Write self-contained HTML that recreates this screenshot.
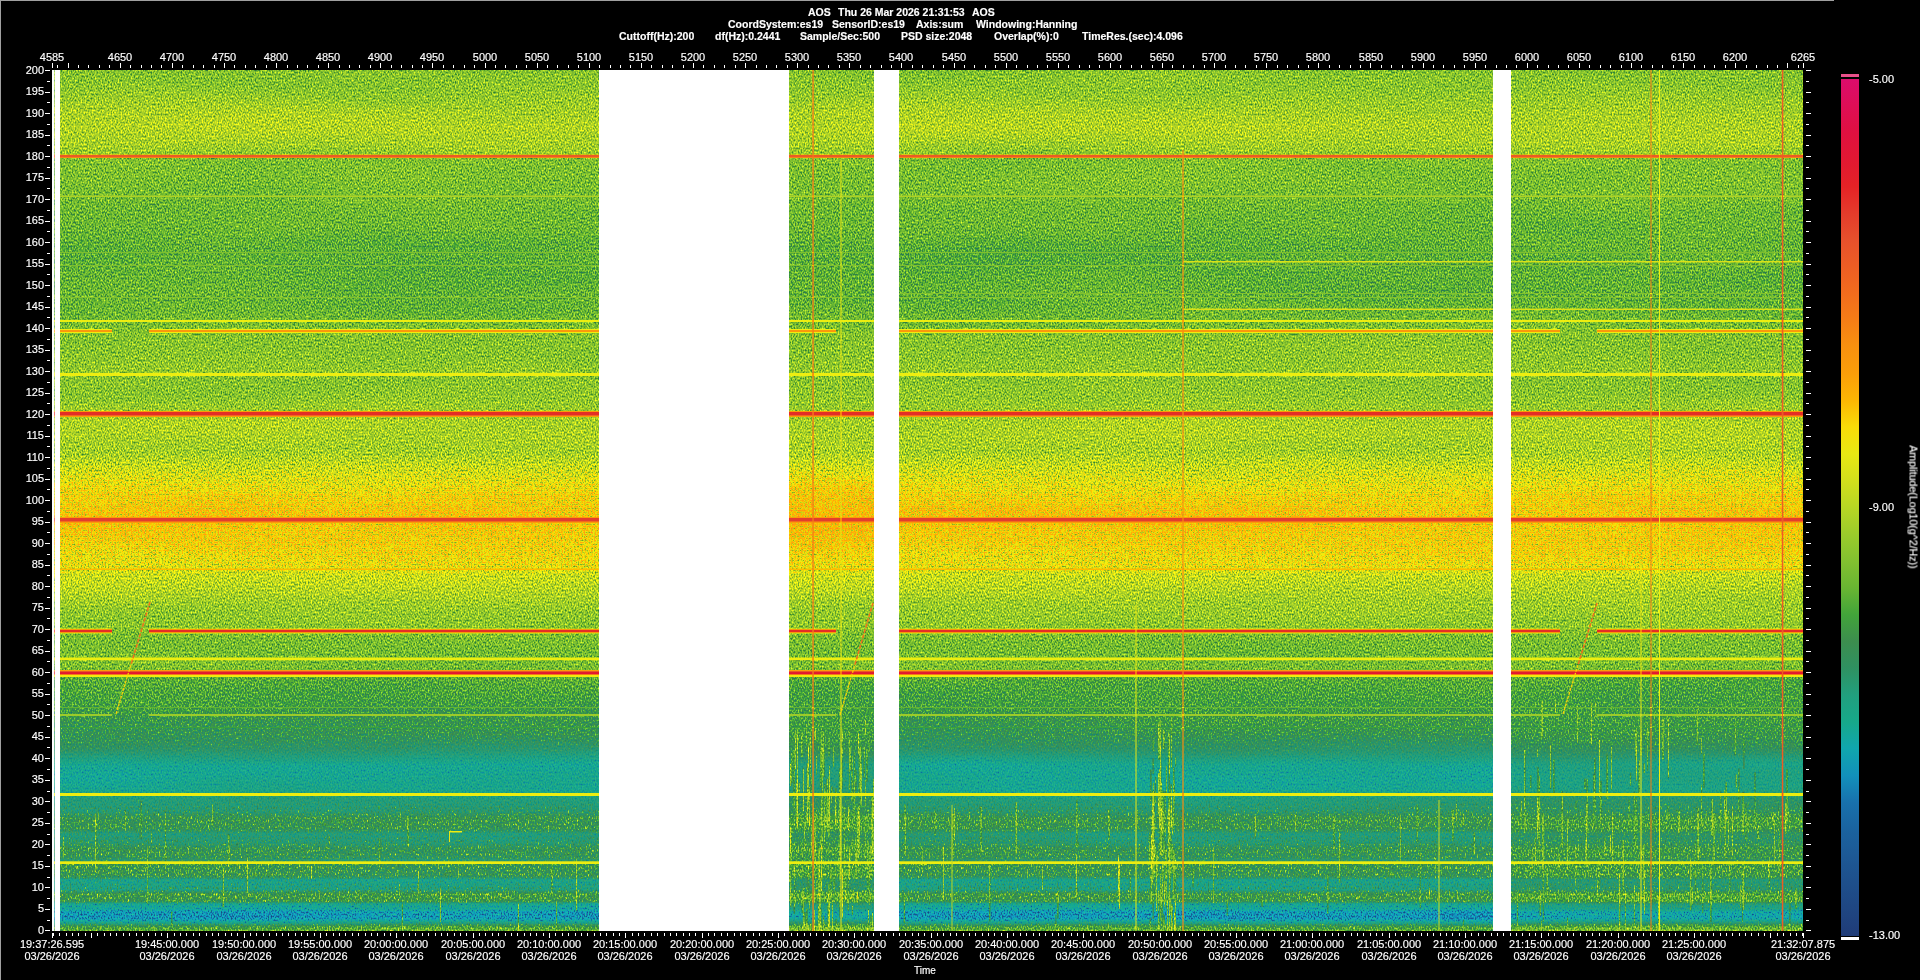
<!DOCTYPE html><html><head><meta charset="utf-8"><style>
html,body{margin:0;padding:0;background:#000;width:1920px;height:980px;overflow:hidden}
body{position:relative;font-family:"Liberation Sans",sans-serif;color:#fff}
.a{position:absolute}
.t{position:absolute;white-space:nowrap;font-size:11px;line-height:11px;will-change:transform;-webkit-text-stroke:0.15px #fff}
.c{transform:translateX(-50%)}
.r{text-align:right}
.b{font-weight:bold;font-size:10.5px;line-height:12px}
</style></head><body>
<div class="a" style="left:0;top:0;width:1px;height:980px;background:#a0a0a0"></div>
<div class="a" style="left:0;top:0;width:1834px;height:1px;background:#a0a0a0"></div>
<div class="t b" style="left:807.8px;top:6px">AOS</div>
<div class="t b" style="left:837.5px;top:6px">Thu 26 Mar 2026 21:31:53</div>
<div class="t b" style="left:971.7px;top:6px">AOS</div>
<div class="t b" style="left:727.5px;top:18px">CoordSystem:es19</div>
<div class="t b" style="left:831.9px;top:18px">SensorID:es19</div>
<div class="t b" style="left:915.8px;top:18px">Axis:sum</div>
<div class="t b" style="left:976.3px;top:18px">Windowing:Hanning</div>
<div class="t b" style="left:618.8px;top:30px">Cuttoff(Hz):200</div>
<div class="t b" style="left:714.7px;top:30px">df(Hz):0.2441</div>
<div class="t b" style="left:800.0px;top:30px">Sample/Sec:500</div>
<div class="t b" style="left:900.8px;top:30px">PSD size:2048</div>
<div class="t b" style="left:994.2px;top:30px">Overlap(%):0</div>
<div class="t b" style="left:1082.2px;top:30px">TimeRes.(sec):4.096</div>
<div class="t c" style="left:52.0px;top:52px">4585</div>
<div class="t c" style="left:119.7px;top:52px">4650</div>
<div class="t c" style="left:171.9px;top:52px">4700</div>
<div class="t c" style="left:224.0px;top:52px">4750</div>
<div class="t c" style="left:276.1px;top:52px">4800</div>
<div class="t c" style="left:328.2px;top:52px">4850</div>
<div class="t c" style="left:380.3px;top:52px">4900</div>
<div class="t c" style="left:432.4px;top:52px">4950</div>
<div class="t c" style="left:484.5px;top:52px">5000</div>
<div class="t c" style="left:536.7px;top:52px">5050</div>
<div class="t c" style="left:588.8px;top:52px">5100</div>
<div class="t c" style="left:640.9px;top:52px">5150</div>
<div class="t c" style="left:693.0px;top:52px">5200</div>
<div class="t c" style="left:745.1px;top:52px">5250</div>
<div class="t c" style="left:797.2px;top:52px">5300</div>
<div class="t c" style="left:849.3px;top:52px">5350</div>
<div class="t c" style="left:901.4px;top:52px">5400</div>
<div class="t c" style="left:953.6px;top:52px">5450</div>
<div class="t c" style="left:1005.7px;top:52px">5500</div>
<div class="t c" style="left:1057.8px;top:52px">5550</div>
<div class="t c" style="left:1109.9px;top:52px">5600</div>
<div class="t c" style="left:1162.0px;top:52px">5650</div>
<div class="t c" style="left:1214.1px;top:52px">5700</div>
<div class="t c" style="left:1266.2px;top:52px">5750</div>
<div class="t c" style="left:1318.3px;top:52px">5800</div>
<div class="t c" style="left:1370.5px;top:52px">5850</div>
<div class="t c" style="left:1422.6px;top:52px">5900</div>
<div class="t c" style="left:1474.7px;top:52px">5950</div>
<div class="t c" style="left:1526.8px;top:52px">6000</div>
<div class="t c" style="left:1578.9px;top:52px">6050</div>
<div class="t c" style="left:1631.0px;top:52px">6100</div>
<div class="t c" style="left:1683.1px;top:52px">6150</div>
<div class="t c" style="left:1735.3px;top:52px">6200</div>
<div class="t c" style="left:1803.0px;top:52px">6265</div>
<div class="t r" style="left:0;width:44px;top:924.8px">0</div>
<div class="t r" style="left:0;width:44px;top:903.3px">5</div>
<div class="t r" style="left:0;width:44px;top:881.8px">10</div>
<div class="t r" style="left:0;width:44px;top:860.3px">15</div>
<div class="t r" style="left:0;width:44px;top:838.8px">20</div>
<div class="t r" style="left:0;width:44px;top:817.3px">25</div>
<div class="t r" style="left:0;width:44px;top:795.8px">30</div>
<div class="t r" style="left:0;width:44px;top:774.2px">35</div>
<div class="t r" style="left:0;width:44px;top:752.7px">40</div>
<div class="t r" style="left:0;width:44px;top:731.2px">45</div>
<div class="t r" style="left:0;width:44px;top:709.7px">50</div>
<div class="t r" style="left:0;width:44px;top:688.2px">55</div>
<div class="t r" style="left:0;width:44px;top:666.7px">60</div>
<div class="t r" style="left:0;width:44px;top:645.2px">65</div>
<div class="t r" style="left:0;width:44px;top:623.7px">70</div>
<div class="t r" style="left:0;width:44px;top:602.2px">75</div>
<div class="t r" style="left:0;width:44px;top:580.7px">80</div>
<div class="t r" style="left:0;width:44px;top:559.2px">85</div>
<div class="t r" style="left:0;width:44px;top:537.7px">90</div>
<div class="t r" style="left:0;width:44px;top:516.2px">95</div>
<div class="t r" style="left:0;width:44px;top:494.6px">100</div>
<div class="t r" style="left:0;width:44px;top:473.1px">105</div>
<div class="t r" style="left:0;width:44px;top:451.6px">110</div>
<div class="t r" style="left:0;width:44px;top:430.1px">115</div>
<div class="t r" style="left:0;width:44px;top:408.6px">120</div>
<div class="t r" style="left:0;width:44px;top:387.1px">125</div>
<div class="t r" style="left:0;width:44px;top:365.6px">130</div>
<div class="t r" style="left:0;width:44px;top:344.1px">135</div>
<div class="t r" style="left:0;width:44px;top:322.6px">140</div>
<div class="t r" style="left:0;width:44px;top:301.1px">145</div>
<div class="t r" style="left:0;width:44px;top:279.6px">150</div>
<div class="t r" style="left:0;width:44px;top:258.1px">155</div>
<div class="t r" style="left:0;width:44px;top:236.6px">160</div>
<div class="t r" style="left:0;width:44px;top:215.1px">165</div>
<div class="t r" style="left:0;width:44px;top:193.5px">170</div>
<div class="t r" style="left:0;width:44px;top:172.0px">175</div>
<div class="t r" style="left:0;width:44px;top:150.5px">180</div>
<div class="t r" style="left:0;width:44px;top:129.0px">185</div>
<div class="t r" style="left:0;width:44px;top:107.5px">190</div>
<div class="t r" style="left:0;width:44px;top:86.0px">195</div>
<div class="t r" style="left:0;width:44px;top:64.5px">200</div>
<div class="t c" style="left:52.0px;top:938px;text-align:center;line-height:12px">19:37:26.595<br>03/26/2026</div>
<div class="t c" style="left:167.4px;top:938px;text-align:center;line-height:12px">19:45:00.000<br>03/26/2026</div>
<div class="t c" style="left:243.7px;top:938px;text-align:center;line-height:12px">19:50:00.000<br>03/26/2026</div>
<div class="t c" style="left:320.0px;top:938px;text-align:center;line-height:12px">19:55:00.000<br>03/26/2026</div>
<div class="t c" style="left:396.4px;top:938px;text-align:center;line-height:12px">20:00:00.000<br>03/26/2026</div>
<div class="t c" style="left:472.7px;top:938px;text-align:center;line-height:12px">20:05:00.000<br>03/26/2026</div>
<div class="t c" style="left:549.1px;top:938px;text-align:center;line-height:12px">20:10:00.000<br>03/26/2026</div>
<div class="t c" style="left:625.4px;top:938px;text-align:center;line-height:12px">20:15:00.000<br>03/26/2026</div>
<div class="t c" style="left:701.7px;top:938px;text-align:center;line-height:12px">20:20:00.000<br>03/26/2026</div>
<div class="t c" style="left:778.1px;top:938px;text-align:center;line-height:12px">20:25:00.000<br>03/26/2026</div>
<div class="t c" style="left:854.4px;top:938px;text-align:center;line-height:12px">20:30:00.000<br>03/26/2026</div>
<div class="t c" style="left:930.7px;top:938px;text-align:center;line-height:12px">20:35:00.000<br>03/26/2026</div>
<div class="t c" style="left:1007.1px;top:938px;text-align:center;line-height:12px">20:40:00.000<br>03/26/2026</div>
<div class="t c" style="left:1083.4px;top:938px;text-align:center;line-height:12px">20:45:00.000<br>03/26/2026</div>
<div class="t c" style="left:1159.8px;top:938px;text-align:center;line-height:12px">20:50:00.000<br>03/26/2026</div>
<div class="t c" style="left:1236.1px;top:938px;text-align:center;line-height:12px">20:55:00.000<br>03/26/2026</div>
<div class="t c" style="left:1312.4px;top:938px;text-align:center;line-height:12px">21:00:00.000<br>03/26/2026</div>
<div class="t c" style="left:1388.8px;top:938px;text-align:center;line-height:12px">21:05:00.000<br>03/26/2026</div>
<div class="t c" style="left:1465.1px;top:938px;text-align:center;line-height:12px">21:10:00.000<br>03/26/2026</div>
<div class="t c" style="left:1541.4px;top:938px;text-align:center;line-height:12px">21:15:00.000<br>03/26/2026</div>
<div class="t c" style="left:1617.8px;top:938px;text-align:center;line-height:12px">21:20:00.000<br>03/26/2026</div>
<div class="t c" style="left:1694.1px;top:938px;text-align:center;line-height:12px">21:25:00.000<br>03/26/2026</div>
<div class="t c" style="left:1803.0px;top:938px;text-align:center;line-height:12px">21:32:07.875<br>03/26/2026</div>
<div class="t c" style="left:925px;top:965px;font-size:10px">Time</div>
<div class="t" style="left:1869px;top:74px">-5.00</div>
<div class="t" style="left:1869px;top:502px">-9.00</div>
<div class="t" style="left:1869px;top:930px">-13.00</div>
<div class="t" style="left:1913px;top:507px;font-size:10.6px;transform:translate(-50%,-50%) rotate(90deg)">Amplitude(Log10(g^2/Hz))</div>
<svg class="a" style="left:0;top:0" width="1920" height="980"><path d="M57.5 65V68M68.5 63V68M78.5 65V68M88.5 65V68M99.5 65V68M109.5 65V68M120.5 63V68M130.5 65V68M141.5 65V68M151.5 65V68M161.5 65V68M172.5 63V68M182.5 65V68M193.5 65V68M203.5 65V68M214.5 65V68M224.5 63V68M234.5 65V68M245.5 65V68M255.5 65V68M266.5 65V68M276.5 63V68M287.5 65V68M297.5 65V68M307.5 65V68M318.5 65V68M328.5 63V68M339.5 65V68M349.5 65V68M359.5 65V68M370.5 65V68M380.5 63V68M391.5 65V68M401.5 65V68M412.5 65V68M422.5 65V68M432.5 63V68M443.5 65V68M453.5 65V68M464.5 65V68M474.5 65V68M485.5 63V68M495.5 65V68M505.5 65V68M516.5 65V68M526.5 65V68M537.5 63V68M547.5 65V68M557.5 65V68M568.5 65V68M578.5 65V68M589.5 63V68M599.5 65V68M610.5 65V68M620.5 65V68M630.5 65V68M641.5 63V68M651.5 65V68M662.5 65V68M672.5 65V68M683.5 65V68M693.5 63V68M703.5 65V68M714.5 65V68M724.5 65V68M735.5 65V68M745.5 63V68M756.5 65V68M766.5 65V68M776.5 65V68M787.5 65V68M797.5 63V68M808.5 65V68M818.5 65V68M828.5 65V68M839.5 65V68M849.5 63V68M860.5 65V68M870.5 65V68M881.5 65V68M891.5 65V68M901.5 63V68M912.5 65V68M922.5 65V68M933.5 65V68M943.5 65V68M954.5 63V68M964.5 65V68M974.5 65V68M985.5 65V68M995.5 65V68M1006.5 63V68M1016.5 65V68M1027.5 65V68M1037.5 65V68M1047.5 65V68M1058.5 63V68M1068.5 65V68M1079.5 65V68M1089.5 65V68M1099.5 65V68M1110.5 63V68M1120.5 65V68M1131.5 65V68M1141.5 65V68M1152.5 65V68M1162.5 63V68M1172.5 65V68M1183.5 65V68M1193.5 65V68M1204.5 65V68M1214.5 63V68M1225.5 65V68M1235.5 65V68M1245.5 65V68M1256.5 65V68M1266.5 63V68M1277.5 65V68M1287.5 65V68M1298.5 65V68M1308.5 65V68M1318.5 63V68M1329.5 65V68M1339.5 65V68M1350.5 65V68M1360.5 65V68M1370.5 63V68M1381.5 65V68M1391.5 65V68M1402.5 65V68M1412.5 65V68M1423.5 63V68M1433.5 65V68M1443.5 65V68M1454.5 65V68M1464.5 65V68M1475.5 63V68M1485.5 65V68M1496.5 65V68M1506.5 65V68M1516.5 65V68M1527.5 63V68M1537.5 65V68M1548.5 65V68M1558.5 65V68M1568.5 65V68M1579.5 63V68M1589.5 65V68M1600.5 65V68M1610.5 65V68M1621.5 65V68M1631.5 63V68M1641.5 65V68M1652.5 65V68M1662.5 65V68M1673.5 65V68M1683.5 63V68M1694.5 65V68M1704.5 65V68M1714.5 65V68M1725.5 65V68M1735.5 63V68M1746.5 65V68M1756.5 65V68M1767.5 65V68M1777.5 65V68M1787.5 63V68M1798.5 65V68M52.5 63V68M1803.5 63V68M45 930.5H50M1806 930.5H1811M47 920.5H50M1806 920.5H1809M45 909.5H50M1806 909.5H1811M47 898.5H50M1806 898.5H1809M45 887.5H50M1806 887.5H1811M47 877.5H50M1806 877.5H1809M45 866.5H50M1806 866.5H1811M47 855.5H50M1806 855.5H1809M45 844.5H50M1806 844.5H1811M47 834.5H50M1806 834.5H1809M45 823.5H50M1806 823.5H1811M47 812.5H50M1806 812.5H1809M45 801.5H50M1806 801.5H1811M47 791.5H50M1806 791.5H1809M45 780.5H50M1806 780.5H1811M47 769.5H50M1806 769.5H1809M45 758.5H50M1806 758.5H1811M47 747.5H50M1806 747.5H1809M45 737.5H50M1806 737.5H1811M47 726.5H50M1806 726.5H1809M45 715.5H50M1806 715.5H1811M47 704.5H50M1806 704.5H1809M45 694.5H50M1806 694.5H1811M47 683.5H50M1806 683.5H1809M45 672.5H50M1806 672.5H1811M47 661.5H50M1806 661.5H1809M45 651.5H50M1806 651.5H1811M47 640.5H50M1806 640.5H1809M45 629.5H50M1806 629.5H1811M47 618.5H50M1806 618.5H1809M45 608.5H50M1806 608.5H1811M47 597.5H50M1806 597.5H1809M45 586.5H50M1806 586.5H1811M47 575.5H50M1806 575.5H1809M45 565.5H50M1806 565.5H1811M47 554.5H50M1806 554.5H1809M45 543.5H50M1806 543.5H1811M47 532.5H50M1806 532.5H1809M45 522.5H50M1806 522.5H1811M47 511.5H50M1806 511.5H1809M45 500.5H50M1806 500.5H1811M47 489.5H50M1806 489.5H1809M45 479.5H50M1806 479.5H1811M47 468.5H50M1806 468.5H1809M45 457.5H50M1806 457.5H1811M47 446.5H50M1806 446.5H1809M45 436.5H50M1806 436.5H1811M47 425.5H50M1806 425.5H1809M45 414.5H50M1806 414.5H1811M47 403.5H50M1806 403.5H1809M45 393.5H50M1806 393.5H1811M47 382.5H50M1806 382.5H1809M45 371.5H50M1806 371.5H1811M47 360.5H50M1806 360.5H1809M45 350.5H50M1806 350.5H1811M47 339.5H50M1806 339.5H1809M45 328.5H50M1806 328.5H1811M47 317.5H50M1806 317.5H1809M45 307.5H50M1806 307.5H1811M47 296.5H50M1806 296.5H1809M45 285.5H50M1806 285.5H1811M47 274.5H50M1806 274.5H1809M45 264.5H50M1806 264.5H1811M47 253.5H50M1806 253.5H1809M45 242.5H50M1806 242.5H1811M47 231.5H50M1806 231.5H1809M45 221.5H50M1806 221.5H1811M47 210.5H50M1806 210.5H1809M45 199.5H50M1806 199.5H1811M47 188.5H50M1806 188.5H1809M45 178.5H50M1806 178.5H1811M47 167.5H50M1806 167.5H1809M45 156.5H50M1806 156.5H1811M47 145.5H50M1806 145.5H1809M45 135.5H50M1806 135.5H1811M47 124.5H50M1806 124.5H1809M45 113.5H50M1806 113.5H1811M47 102.5H50M1806 102.5H1809M45 92.5H50M1806 92.5H1811M47 81.5H50M1806 81.5H1809M45 70.5H50M1806 70.5H1811M53.5 933V936M59.5 933V936M66.5 933V936M72.5 933V936M78.5 933V936M85.5 933V936M91.5 933V938M97.5 933V936M104.5 933V936M110.5 933V936M116.5 933V936M123.5 933V936M129.5 933V936M136.5 933V936M142.5 933V936M148.5 933V936M155.5 933V936M161.5 933V936M167.5 933V938M174.5 933V936M180.5 933V936M186.5 933V936M193.5 933V936M199.5 933V936M206.5 933V936M212.5 933V936M218.5 933V936M225.5 933V936M231.5 933V936M237.5 933V936M244.5 933V938M250.5 933V936M256.5 933V936M263.5 933V936M269.5 933V936M276.5 933V936M282.5 933V936M288.5 933V936M295.5 933V936M301.5 933V936M307.5 933V936M314.5 933V936M320.5 933V938M326.5 933V936M333.5 933V936M339.5 933V936M345.5 933V936M352.5 933V936M358.5 933V936M365.5 933V936M371.5 933V936M377.5 933V936M384.5 933V936M390.5 933V936M396.5 933V938M403.5 933V936M409.5 933V936M415.5 933V936M422.5 933V936M428.5 933V936M435.5 933V936M441.5 933V936M447.5 933V936M454.5 933V936M460.5 933V936M466.5 933V936M473.5 933V938M479.5 933V936M485.5 933V936M492.5 933V936M498.5 933V936M505.5 933V936M511.5 933V936M517.5 933V936M524.5 933V936M530.5 933V936M536.5 933V936M543.5 933V936M549.5 933V938M555.5 933V936M562.5 933V936M568.5 933V936M575.5 933V936M581.5 933V936M587.5 933V936M594.5 933V936M600.5 933V936M606.5 933V936M613.5 933V936M619.5 933V936M625.5 933V938M632.5 933V936M638.5 933V936M644.5 933V936M651.5 933V936M657.5 933V936M664.5 933V936M670.5 933V936M676.5 933V936M683.5 933V936M689.5 933V936M695.5 933V936M702.5 933V938M708.5 933V936M714.5 933V936M721.5 933V936M727.5 933V936M734.5 933V936M740.5 933V936M746.5 933V936M753.5 933V936M759.5 933V936M765.5 933V936M772.5 933V936M778.5 933V938M784.5 933V936M791.5 933V936M797.5 933V936M804.5 933V936M810.5 933V936M816.5 933V936M823.5 933V936M829.5 933V936M835.5 933V936M842.5 933V936M848.5 933V936M854.5 933V938M861.5 933V936M867.5 933V936M873.5 933V936M880.5 933V936M886.5 933V936M893.5 933V936M899.5 933V936M905.5 933V936M912.5 933V936M918.5 933V936M924.5 933V936M931.5 933V938M937.5 933V936M943.5 933V936M950.5 933V936M956.5 933V936M963.5 933V936M969.5 933V936M975.5 933V936M982.5 933V936M988.5 933V936M994.5 933V936M1001.5 933V936M1007.5 933V938M1013.5 933V936M1020.5 933V936M1026.5 933V936M1033.5 933V936M1039.5 933V936M1045.5 933V936M1052.5 933V936M1058.5 933V936M1064.5 933V936M1071.5 933V936M1077.5 933V936M1083.5 933V938M1090.5 933V936M1096.5 933V936M1103.5 933V936M1109.5 933V936M1115.5 933V936M1122.5 933V936M1128.5 933V936M1134.5 933V936M1141.5 933V936M1147.5 933V936M1153.5 933V936M1160.5 933V938M1166.5 933V936M1172.5 933V936M1179.5 933V936M1185.5 933V936M1192.5 933V936M1198.5 933V936M1204.5 933V936M1211.5 933V936M1217.5 933V936M1223.5 933V936M1230.5 933V936M1236.5 933V938M1242.5 933V936M1249.5 933V936M1255.5 933V936M1262.5 933V936M1268.5 933V936M1274.5 933V936M1281.5 933V936M1287.5 933V936M1293.5 933V936M1300.5 933V936M1306.5 933V936M1312.5 933V938M1319.5 933V936M1325.5 933V936M1332.5 933V936M1338.5 933V936M1344.5 933V936M1351.5 933V936M1357.5 933V936M1363.5 933V936M1370.5 933V936M1376.5 933V936M1382.5 933V936M1389.5 933V938M1395.5 933V936M1401.5 933V936M1408.5 933V936M1414.5 933V936M1421.5 933V936M1427.5 933V936M1433.5 933V936M1440.5 933V936M1446.5 933V936M1452.5 933V936M1459.5 933V936M1465.5 933V938M1471.5 933V936M1478.5 933V936M1484.5 933V936M1491.5 933V936M1497.5 933V936M1503.5 933V936M1510.5 933V936M1516.5 933V936M1522.5 933V936M1529.5 933V936M1535.5 933V936M1541.5 933V938M1548.5 933V936M1554.5 933V936M1561.5 933V936M1567.5 933V936M1573.5 933V936M1580.5 933V936M1586.5 933V936M1592.5 933V936M1599.5 933V936M1605.5 933V936M1611.5 933V936M1618.5 933V938M1624.5 933V936M1631.5 933V936M1637.5 933V936M1643.5 933V936M1650.5 933V936M1656.5 933V936M1662.5 933V936M1669.5 933V936M1675.5 933V936M1681.5 933V936M1688.5 933V936M1694.5 933V938M1700.5 933V936M1707.5 933V936M1713.5 933V936M1720.5 933V936M1726.5 933V936M1732.5 933V936M1739.5 933V936M1745.5 933V936M1751.5 933V936M1758.5 933V936M1764.5 933V936M1770.5 933V938M1777.5 933V936M1783.5 933V936M1790.5 933V936M1796.5 933V936M1802.5 933V936M52.5 933V938M1803.5 933V938" stroke="#fff" stroke-width="1" fill="none" shape-rendering="crispEdges"/></svg>
<div class="a" style="left:1841px;top:74px;width:18px;height:3px;background:#e8508a"></div>
<div class="a" style="left:1841px;top:79px;width:18px;height:857px;background:linear-gradient(to bottom,rgb(220,12,108) 0.00%,rgb(222,14,86) 3.12%,rgb(224,16,64) 6.25%,rgb(226,24,50) 9.38%,rgb(228,34,38) 12.50%,rgb(228,59,43) 15.62%,rgb(231,80,44) 18.75%,rgb(237,93,36) 21.88%,rgb(242,108,29) 25.00%,rgb(245,125,22) 28.12%,rgb(248,145,15) 31.25%,rgb(251,158,9) 34.38%,rgb(252,182,3) 37.50%,rgb(248,220,8) 40.62%,rgb(232,232,19) 43.75%,rgb(210,223,28) 46.88%,rgb(183,214,36) 50.00%,rgb(155,203,43) 53.12%,rgb(130,193,48) 56.25%,rgb(105,181,50) 59.38%,rgb(66,164,58) 62.50%,rgb(60,142,78) 65.62%,rgb(47,145,97) 68.75%,rgb(33,159,126) 71.88%,rgb(23,168,138) 75.00%,rgb(16,166,174) 78.12%,rgb(18,145,187) 81.25%,rgb(24,113,173) 84.38%,rgb(26,99,159) 87.50%,rgb(29,89,149) 90.62%,rgb(30,79,139) 93.75%,rgb(31,70,130) 96.88%,rgb(32,60,120) 100.00%)"></div>
<div class="a" style="left:1841px;top:937px;width:18px;height:3px;background:#fff"></div>
<svg class="a" style="left:54px;top:70px" width="1749" height="861"><defs><linearGradient id="pg" gradientUnits="userSpaceOnUse" x1="0" y1="0" x2="0" y2="861"><stop offset="0.0000" stop-color="rgb(87,0,166)"/><stop offset="0.0232" stop-color="rgb(90,0,166)"/><stop offset="0.0465" stop-color="rgb(96,0,166)"/><stop offset="0.0674" stop-color="rgb(100,0,166)"/><stop offset="0.0871" stop-color="rgb(96,0,166)"/><stop offset="0.0964" stop-color="rgb(91,0,166)"/><stop offset="0.1022" stop-color="rgb(85,0,166)"/><stop offset="0.1278" stop-color="rgb(84,0,166)"/><stop offset="0.1742" stop-color="rgb(80,0,166)"/><stop offset="0.2091" stop-color="rgb(76,0,166)"/><stop offset="0.2439" stop-color="rgb(76,0,166)"/><stop offset="0.2671" stop-color="rgb(77,0,166)"/><stop offset="0.2880" stop-color="rgb(81,0,166)"/><stop offset="0.3078" stop-color="rgb(87,0,166)"/><stop offset="0.3368" stop-color="rgb(90,0,166)"/><stop offset="0.3508" stop-color="rgb(91,0,166)"/><stop offset="0.3577" stop-color="rgb(87,0,166)"/><stop offset="0.3775" stop-color="rgb(89,0,166)"/><stop offset="0.3949" stop-color="rgb(94,0,166)"/><stop offset="0.4042" stop-color="rgb(98,0,166)"/><stop offset="0.4239" stop-color="rgb(99,0,166)"/><stop offset="0.4297" stop-color="rgb(98,0,166)"/><stop offset="0.4437" stop-color="rgb(91,0,201)"/><stop offset="0.4588" stop-color="rgb(94,0,240)"/><stop offset="0.4646" stop-color="rgb(95,0,255)"/><stop offset="0.4762" stop-color="rgb(102,0,255)"/><stop offset="0.4936" stop-color="rgb(111,0,255)"/><stop offset="0.5134" stop-color="rgb(115,0,255)"/><stop offset="0.5285" stop-color="rgb(115,0,255)"/><stop offset="0.5517" stop-color="rgb(112,0,255)"/><stop offset="0.5749" stop-color="rgb(106,0,255)"/><stop offset="0.5865" stop-color="rgb(100,0,219)"/><stop offset="0.6039" stop-color="rgb(101,0,166)"/><stop offset="0.6156" stop-color="rgb(96,0,165)"/><stop offset="0.6446" stop-color="rgb(90,0,163)"/><stop offset="0.6620" stop-color="rgb(84,0,161)"/><stop offset="0.6794" stop-color="rgb(83,0,160)"/><stop offset="0.6945" stop-color="rgb(85,0,159)"/><stop offset="0.6969" stop-color="rgb(83,0,159)"/><stop offset="0.7085" stop-color="rgb(74,31,158)"/><stop offset="0.7317" stop-color="rgb(70,35,156)"/><stop offset="0.7491" stop-color="rgb(66,38,155)"/><stop offset="0.7549" stop-color="rgb(65,66,154)"/><stop offset="0.7573" stop-color="rgb(64,76,154)"/><stop offset="0.7724" stop-color="rgb(61,76,153)"/><stop offset="0.7840" stop-color="rgb(61,76,119)"/><stop offset="0.7898" stop-color="rgb(61,60,102)"/><stop offset="0.8014" stop-color="rgb(52,26,102)"/><stop offset="0.8072" stop-color="rgb(47,28,102)"/><stop offset="0.8362" stop-color="rgb(48,38,102)"/><stop offset="0.8479" stop-color="rgb(56,51,102)"/><stop offset="0.8595" stop-color="rgb(52,153,140)"/><stop offset="0.8618" stop-color="rgb(53,173,140)"/><stop offset="0.8653" stop-color="rgb(58,204,140)"/><stop offset="0.8688" stop-color="rgb(63,204,140)"/><stop offset="0.8804" stop-color="rgb(63,204,140)"/><stop offset="0.8827" stop-color="rgb(59,204,140)"/><stop offset="0.8873" stop-color="rgb(50,51,140)"/><stop offset="0.8978" stop-color="rgb(53,176,140)"/><stop offset="0.9001" stop-color="rgb(56,204,140)"/><stop offset="0.9048" stop-color="rgb(62,204,140)"/><stop offset="0.9141" stop-color="rgb(59,204,140)"/><stop offset="0.9152" stop-color="rgb(57,204,140)"/><stop offset="0.9175" stop-color="rgb(53,77,140)"/><stop offset="0.9233" stop-color="rgb(63,255,140)"/><stop offset="0.9361" stop-color="rgb(62,255,140)"/><stop offset="0.9373" stop-color="rgb(58,255,140)"/><stop offset="0.9408" stop-color="rgb(45,51,140)"/><stop offset="0.9524" stop-color="rgb(48,236,140)"/><stop offset="0.9535" stop-color="rgb(53,255,140)"/><stop offset="0.9570" stop-color="rgb(67,255,140)"/><stop offset="0.9652" stop-color="rgb(64,255,140)"/><stop offset="0.9663" stop-color="rgb(57,255,140)"/><stop offset="0.9686" stop-color="rgb(41,102,140)"/><stop offset="0.9698" stop-color="rgb(41,25,140)"/><stop offset="0.9744" stop-color="rgb(39,26,140)"/><stop offset="0.9779" stop-color="rgb(29,26,140)"/><stop offset="0.9849" stop-color="rgb(27,26,140)"/><stop offset="0.9884" stop-color="rgb(39,26,140)"/><stop offset="0.9895" stop-color="rgb(43,26,140)"/><stop offset="0.9919" stop-color="rgb(50,144,140)"/><stop offset="0.9930" stop-color="rgb(58,204,140)"/><stop offset="0.9942" stop-color="rgb(66,204,140)"/><stop offset="1.0000" stop-color="rgb(81,204,140)"/></linearGradient><linearGradient id="pgb" gradientUnits="userSpaceOnUse" x1="0" y1="0" x2="0" y2="861"><stop offset="0.0000" stop-color="rgb(87,0,166)"/><stop offset="0.0232" stop-color="rgb(90,0,166)"/><stop offset="0.0465" stop-color="rgb(96,0,166)"/><stop offset="0.0674" stop-color="rgb(100,0,166)"/><stop offset="0.0871" stop-color="rgb(96,0,166)"/><stop offset="0.0964" stop-color="rgb(91,0,166)"/><stop offset="0.1022" stop-color="rgb(85,0,166)"/><stop offset="0.1278" stop-color="rgb(84,0,166)"/><stop offset="0.1742" stop-color="rgb(80,0,166)"/><stop offset="0.2091" stop-color="rgb(76,0,166)"/><stop offset="0.2439" stop-color="rgb(76,0,166)"/><stop offset="0.2671" stop-color="rgb(77,0,166)"/><stop offset="0.2880" stop-color="rgb(81,0,166)"/><stop offset="0.3078" stop-color="rgb(87,0,166)"/><stop offset="0.3368" stop-color="rgb(90,0,166)"/><stop offset="0.3508" stop-color="rgb(91,0,166)"/><stop offset="0.3577" stop-color="rgb(87,0,166)"/><stop offset="0.3775" stop-color="rgb(89,0,166)"/><stop offset="0.3949" stop-color="rgb(94,0,166)"/><stop offset="0.4042" stop-color="rgb(98,0,166)"/><stop offset="0.4239" stop-color="rgb(99,0,166)"/><stop offset="0.4297" stop-color="rgb(98,0,166)"/><stop offset="0.4437" stop-color="rgb(92,0,201)"/><stop offset="0.4588" stop-color="rgb(97,0,240)"/><stop offset="0.4646" stop-color="rgb(99,0,255)"/><stop offset="0.4762" stop-color="rgb(106,0,255)"/><stop offset="0.4936" stop-color="rgb(115,0,255)"/><stop offset="0.5134" stop-color="rgb(119,0,255)"/><stop offset="0.5285" stop-color="rgb(119,0,255)"/><stop offset="0.5517" stop-color="rgb(116,0,255)"/><stop offset="0.5633" stop-color="rgb(113,0,255)"/><stop offset="0.5749" stop-color="rgb(108,0,255)"/><stop offset="0.5865" stop-color="rgb(100,0,219)"/><stop offset="0.5923" stop-color="rgb(100,0,201)"/><stop offset="0.6039" stop-color="rgb(101,0,166)"/><stop offset="0.6156" stop-color="rgb(96,0,165)"/><stop offset="0.6446" stop-color="rgb(90,0,163)"/><stop offset="0.6620" stop-color="rgb(84,0,161)"/><stop offset="0.6794" stop-color="rgb(83,0,160)"/><stop offset="0.6945" stop-color="rgb(85,0,159)"/><stop offset="0.6969" stop-color="rgb(83,0,159)"/><stop offset="0.7085" stop-color="rgb(74,31,158)"/><stop offset="0.7317" stop-color="rgb(70,35,156)"/><stop offset="0.7491" stop-color="rgb(69,38,155)"/><stop offset="0.7549" stop-color="rgb(69,66,154)"/><stop offset="0.7573" stop-color="rgb(69,76,154)"/><stop offset="0.7724" stop-color="rgb(68,76,153)"/><stop offset="0.7782" stop-color="rgb(69,76,136)"/><stop offset="0.7840" stop-color="rgb(69,76,119)"/><stop offset="0.7898" stop-color="rgb(69,60,102)"/><stop offset="0.8014" stop-color="rgb(60,26,102)"/><stop offset="0.8072" stop-color="rgb(55,28,102)"/><stop offset="0.8362" stop-color="rgb(57,38,102)"/><stop offset="0.8479" stop-color="rgb(65,51,102)"/><stop offset="0.8595" stop-color="rgb(61,153,140)"/><stop offset="0.8618" stop-color="rgb(62,173,140)"/><stop offset="0.8653" stop-color="rgb(67,204,140)"/><stop offset="0.8688" stop-color="rgb(72,204,140)"/><stop offset="0.8804" stop-color="rgb(72,204,140)"/><stop offset="0.8827" stop-color="rgb(68,204,140)"/><stop offset="0.8873" stop-color="rgb(59,51,140)"/><stop offset="0.8978" stop-color="rgb(62,176,140)"/><stop offset="0.9001" stop-color="rgb(65,204,140)"/><stop offset="0.9048" stop-color="rgb(71,204,140)"/><stop offset="0.9141" stop-color="rgb(68,204,140)"/><stop offset="0.9152" stop-color="rgb(66,204,140)"/><stop offset="0.9175" stop-color="rgb(62,77,140)"/><stop offset="0.9233" stop-color="rgb(72,255,140)"/><stop offset="0.9361" stop-color="rgb(71,255,140)"/><stop offset="0.9373" stop-color="rgb(67,255,140)"/><stop offset="0.9408" stop-color="rgb(55,51,140)"/><stop offset="0.9524" stop-color="rgb(57,236,140)"/><stop offset="0.9535" stop-color="rgb(62,255,140)"/><stop offset="0.9570" stop-color="rgb(77,255,140)"/><stop offset="0.9652" stop-color="rgb(74,255,140)"/><stop offset="0.9663" stop-color="rgb(67,255,140)"/><stop offset="0.9686" stop-color="rgb(51,102,140)"/><stop offset="0.9698" stop-color="rgb(51,25,140)"/><stop offset="0.9744" stop-color="rgb(49,26,140)"/><stop offset="0.9779" stop-color="rgb(39,26,140)"/><stop offset="0.9849" stop-color="rgb(37,26,140)"/><stop offset="0.9884" stop-color="rgb(49,26,140)"/><stop offset="0.9895" stop-color="rgb(53,26,140)"/><stop offset="0.9919" stop-color="rgb(60,144,140)"/><stop offset="0.9930" stop-color="rgb(68,204,140)"/><stop offset="0.9942" stop-color="rgb(76,204,140)"/><stop offset="1.0000" stop-color="rgb(91,204,140)"/></linearGradient><linearGradient id="pgd" gradientUnits="userSpaceOnUse" x1="0" y1="0" x2="0" y2="861"><stop offset="0.0000" stop-color="rgb(87,0,166)"/><stop offset="0.0232" stop-color="rgb(90,0,166)"/><stop offset="0.0465" stop-color="rgb(96,0,166)"/><stop offset="0.0674" stop-color="rgb(100,0,166)"/><stop offset="0.0871" stop-color="rgb(96,0,166)"/><stop offset="0.0964" stop-color="rgb(91,0,166)"/><stop offset="0.1022" stop-color="rgb(85,0,166)"/><stop offset="0.1278" stop-color="rgb(84,0,166)"/><stop offset="0.1742" stop-color="rgb(80,0,166)"/><stop offset="0.2091" stop-color="rgb(76,0,166)"/><stop offset="0.2439" stop-color="rgb(76,0,166)"/><stop offset="0.2671" stop-color="rgb(77,0,166)"/><stop offset="0.2880" stop-color="rgb(81,0,166)"/><stop offset="0.3078" stop-color="rgb(87,0,166)"/><stop offset="0.3368" stop-color="rgb(90,0,166)"/><stop offset="0.3508" stop-color="rgb(91,0,166)"/><stop offset="0.3577" stop-color="rgb(87,0,166)"/><stop offset="0.3775" stop-color="rgb(89,0,166)"/><stop offset="0.3949" stop-color="rgb(94,0,166)"/><stop offset="0.4042" stop-color="rgb(98,0,166)"/><stop offset="0.4239" stop-color="rgb(99,0,166)"/><stop offset="0.4297" stop-color="rgb(98,0,166)"/><stop offset="0.4437" stop-color="rgb(91,0,201)"/><stop offset="0.4588" stop-color="rgb(94,0,240)"/><stop offset="0.4646" stop-color="rgb(95,0,255)"/><stop offset="0.4762" stop-color="rgb(102,0,255)"/><stop offset="0.4936" stop-color="rgb(111,0,255)"/><stop offset="0.5134" stop-color="rgb(115,0,255)"/><stop offset="0.5285" stop-color="rgb(115,0,255)"/><stop offset="0.5517" stop-color="rgb(112,0,255)"/><stop offset="0.5749" stop-color="rgb(106,0,255)"/><stop offset="0.5865" stop-color="rgb(100,0,219)"/><stop offset="0.6039" stop-color="rgb(101,0,166)"/><stop offset="0.6156" stop-color="rgb(96,0,165)"/><stop offset="0.6446" stop-color="rgb(90,0,163)"/><stop offset="0.6620" stop-color="rgb(84,0,161)"/><stop offset="0.6794" stop-color="rgb(83,0,160)"/><stop offset="0.6945" stop-color="rgb(85,0,159)"/><stop offset="0.6969" stop-color="rgb(83,0,159)"/><stop offset="0.7085" stop-color="rgb(74,31,158)"/><stop offset="0.7317" stop-color="rgb(70,35,156)"/><stop offset="0.7491" stop-color="rgb(68,38,155)"/><stop offset="0.7549" stop-color="rgb(67,66,154)"/><stop offset="0.7573" stop-color="rgb(67,76,154)"/><stop offset="0.7724" stop-color="rgb(66,76,153)"/><stop offset="0.7782" stop-color="rgb(66,76,136)"/><stop offset="0.7840" stop-color="rgb(66,76,119)"/><stop offset="0.7898" stop-color="rgb(66,60,102)"/><stop offset="0.8014" stop-color="rgb(57,26,102)"/><stop offset="0.8072" stop-color="rgb(53,28,102)"/><stop offset="0.8362" stop-color="rgb(54,38,102)"/><stop offset="0.8479" stop-color="rgb(62,51,102)"/><stop offset="0.8595" stop-color="rgb(59,153,140)"/><stop offset="0.8618" stop-color="rgb(59,173,140)"/><stop offset="0.8653" stop-color="rgb(64,204,140)"/><stop offset="0.8688" stop-color="rgb(69,204,140)"/><stop offset="0.8804" stop-color="rgb(69,204,140)"/><stop offset="0.8827" stop-color="rgb(65,204,140)"/><stop offset="0.8873" stop-color="rgb(57,51,140)"/><stop offset="0.8978" stop-color="rgb(59,176,140)"/><stop offset="0.9001" stop-color="rgb(62,204,140)"/><stop offset="0.9048" stop-color="rgb(68,204,140)"/><stop offset="0.9141" stop-color="rgb(66,204,140)"/><stop offset="0.9152" stop-color="rgb(64,204,140)"/><stop offset="0.9175" stop-color="rgb(60,77,140)"/><stop offset="0.9233" stop-color="rgb(70,255,140)"/><stop offset="0.9361" stop-color="rgb(69,255,140)"/><stop offset="0.9373" stop-color="rgb(65,255,140)"/><stop offset="0.9408" stop-color="rgb(52,51,140)"/><stop offset="0.9524" stop-color="rgb(55,236,140)"/><stop offset="0.9535" stop-color="rgb(60,255,140)"/><stop offset="0.9570" stop-color="rgb(74,255,140)"/><stop offset="0.9652" stop-color="rgb(72,255,140)"/><stop offset="0.9663" stop-color="rgb(64,255,140)"/><stop offset="0.9686" stop-color="rgb(49,102,140)"/><stop offset="0.9698" stop-color="rgb(48,25,140)"/><stop offset="0.9744" stop-color="rgb(46,26,140)"/><stop offset="0.9779" stop-color="rgb(36,26,140)"/><stop offset="0.9849" stop-color="rgb(35,26,140)"/><stop offset="0.9884" stop-color="rgb(46,26,140)"/><stop offset="0.9895" stop-color="rgb(50,26,140)"/><stop offset="0.9919" stop-color="rgb(58,144,140)"/><stop offset="0.9930" stop-color="rgb(66,204,140)"/><stop offset="0.9942" stop-color="rgb(73,204,140)"/><stop offset="1.0000" stop-color="rgb(89,204,140)"/></linearGradient><filter id="cm" x="0" y="0" width="1749" height="861" filterUnits="userSpaceOnUse" color-interpolation-filters="sRGB"><feColorMatrix in="SourceGraphic" type="matrix" values="1 0 0 0 0 1 0 0 0 0 1 0 0 0 0 0 0 0 0 1" result="vs"/><feColorMatrix in="SourceGraphic" type="matrix" values="0 1 0 0 0 0 1 0 0 0 0 1 0 0 0 0 0 0 0 1" result="ms"/><feColorMatrix in="SourceGraphic" type="matrix" values="0 0 1 0 0 0 0 1 0 0 0 0 1 0 0 0 0 0 0 1" result="as"/><feTurbulence type="fractalNoise" baseFrequency="0.7 0.5" numOctaves="1" seed="7" result="n0"/><feColorMatrix in="n0" type="matrix" values="1 0 0 0 0 1 0 0 0 0 1 0 0 0 0 0 0 0 0 1" result="n1"/><feComponentTransfer in="n1" result="n"><feFuncR type="table" tableValues="0.0000 0.0000 0.0000 0.0000 0.0000 0.0000 0.0000 0.0000 0.0000 0.0000 0.0000 0.0000 0.0000 0.0000 0.0122 0.0425 0.0724 0.1019 0.1309 0.1597 0.1880 0.2160 0.2436 0.2709 0.2979 0.3246 0.3509 0.3771 0.4029 0.4285 0.4539 0.4791 0.5041 0.5289 0.5535 0.5780 0.6024 0.6266 0.6506 0.6746 0.6984 0.7222 0.7458 0.7694 0.7928 0.8162 0.8395 0.8628 0.8860 0.9091 0.9322 0.9552 0.9782 1.0000 1.0000 1.0000 1.0000 1.0000 1.0000 1.0000 1.0000 1.0000 1.0000 1.0000 1.0000"/><feFuncG type="table" tableValues="0.0000 0.0000 0.0000 0.0000 0.0000 0.0000 0.0000 0.0000 0.0000 0.0000 0.0000 0.0000 0.0000 0.0000 0.0122 0.0425 0.0724 0.1019 0.1309 0.1597 0.1880 0.2160 0.2436 0.2709 0.2979 0.3246 0.3509 0.3771 0.4029 0.4285 0.4539 0.4791 0.5041 0.5289 0.5535 0.5780 0.6024 0.6266 0.6506 0.6746 0.6984 0.7222 0.7458 0.7694 0.7928 0.8162 0.8395 0.8628 0.8860 0.9091 0.9322 0.9552 0.9782 1.0000 1.0000 1.0000 1.0000 1.0000 1.0000 1.0000 1.0000 1.0000 1.0000 1.0000 1.0000"/><feFuncB type="table" tableValues="0.0000 0.0000 0.0000 0.0000 0.0000 0.0000 0.0000 0.0000 0.0000 0.0000 0.0000 0.0000 0.0000 0.0000 0.0122 0.0425 0.0724 0.1019 0.1309 0.1597 0.1880 0.2160 0.2436 0.2709 0.2979 0.3246 0.3509 0.3771 0.4029 0.4285 0.4539 0.4791 0.5041 0.5289 0.5535 0.5780 0.6024 0.6266 0.6506 0.6746 0.6984 0.7222 0.7458 0.7694 0.7928 0.8162 0.8395 0.8628 0.8860 0.9091 0.9322 0.9552 0.9782 1.0000 1.0000 1.0000 1.0000 1.0000 1.0000 1.0000 1.0000 1.0000 1.0000 1.0000 1.0000"/></feComponentTransfer><feComposite in="n" in2="as" operator="arithmetic" k1="1" k2="0" k3="0" k4="0" result="na"/><feComposite in="vs" in2="na" operator="arithmetic" k1="0" k2="1" k3="0.3" k4="0" result="v0"/><feTurbulence type="fractalNoise" baseFrequency="0.9 0.3" numOctaves="1" seed="11" result="s0"/><feColorMatrix in="s0" type="matrix" values="1 0 0 0 0 1 0 0 0 0 1 0 0 0 0 0 0 0 0 1" result="s1"/><feComponentTransfer in="s1" result="s2"><feFuncR type="table" tableValues="0.000 0.000 0.000 0.000 0.000 0.000 0.000 0.000 0.000 0.000 0.000 0.000 0.000 0.000 0.000 0.000 0.000 0.000 0.013 0.178 0.342 0.507 0.671 0.836 1.000 1.000 1.000 1.000 1.000 1.000 1.000 1.000 1.000"/><feFuncG type="table" tableValues="0.000 0.000 0.000 0.000 0.000 0.000 0.000 0.000 0.000 0.000 0.000 0.000 0.000 0.000 0.000 0.000 0.000 0.000 0.013 0.178 0.342 0.507 0.671 0.836 1.000 1.000 1.000 1.000 1.000 1.000 1.000 1.000 1.000"/><feFuncB type="table" tableValues="0.000 0.000 0.000 0.000 0.000 0.000 0.000 0.000 0.000 0.000 0.000 0.000 0.000 0.000 0.000 0.000 0.000 0.000 0.013 0.178 0.342 0.507 0.671 0.836 1.000 1.000 1.000 1.000 1.000 1.000 1.000 1.000 1.000"/></feComponentTransfer><feComposite in="s2" in2="ms" operator="arithmetic" k1="1" k2="0" k3="0" k4="0" result="s"/><feComposite in="v0" in2="s" operator="arithmetic" k1="0" k2="1" k3="0.15" k4="0" result="v1"/><feTurbulence type="fractalNoise" baseFrequency="0.004 0.03" numOctaves="2" seed="3" result="m0"/><feColorMatrix in="m0" type="matrix" values="1 0 0 0 0 1 0 0 0 0 1 0 0 0 0 0 0 0 0 1" result="m1"/><feComposite in="v1" in2="m1" operator="arithmetic" k1="0" k2="1" k3="0.04" k4="-0.02" result="v"/><feComponentTransfer in="v" result="c"><feFuncR type="table" tableValues="0.125 0.125 0.124 0.123 0.122 0.122 0.121 0.120 0.119 0.118 0.117 0.115 0.112 0.110 0.107 0.105 0.103 0.101 0.099 0.097 0.096 0.093 0.086 0.080 0.072 0.065 0.063 0.063 0.063 0.065 0.074 0.083 0.092 0.101 0.110 0.119 0.130 0.144 0.158 0.172 0.186 0.199 0.213 0.226 0.234 0.229 0.225 0.220 0.258 0.300 0.342 0.379 0.411 0.442 0.473 0.491 0.509 0.527 0.552 0.580 0.608 0.636 0.664 0.691 0.718 0.745 0.773 0.798 0.823 0.847 0.872 0.895 0.910 0.925 0.940 0.956 0.972 0.979 0.985 0.988 0.988 0.988 0.988 0.988 0.986 0.983 0.980 0.977 0.974 0.970 0.967 0.964 0.960 0.957 0.954 0.951 0.947 0.944 0.941 0.935 0.929 0.923 0.917 0.911 0.905 0.899 0.894 0.894 0.894 0.894 0.894 0.894 0.893 0.891 0.889 0.887 0.885 0.883 0.881 0.879 0.877 0.875 0.874 0.872 0.870 0.868 0.866 0.865 0.863"/><feFuncG type="table" tableValues="0.235 0.245 0.254 0.264 0.273 0.283 0.293 0.302 0.312 0.321 0.331 0.341 0.350 0.360 0.370 0.380 0.390 0.402 0.416 0.430 0.443 0.460 0.494 0.528 0.569 0.613 0.633 0.642 0.652 0.659 0.659 0.659 0.659 0.652 0.643 0.634 0.623 0.609 0.595 0.581 0.567 0.561 0.556 0.552 0.557 0.580 0.602 0.625 0.644 0.663 0.682 0.698 0.712 0.725 0.738 0.747 0.756 0.766 0.776 0.786 0.797 0.807 0.817 0.828 0.838 0.848 0.858 0.867 0.874 0.881 0.888 0.895 0.910 0.925 0.940 0.905 0.864 0.819 0.774 0.739 0.713 0.688 0.662 0.636 0.619 0.606 0.594 0.581 0.569 0.551 0.531 0.511 0.492 0.472 0.455 0.439 0.423 0.407 0.391 0.378 0.365 0.353 0.340 0.327 0.314 0.301 0.286 0.258 0.231 0.203 0.175 0.148 0.134 0.124 0.114 0.105 0.095 0.085 0.075 0.066 0.061 0.060 0.058 0.056 0.054 0.052 0.051 0.049 0.047"/><feFuncB type="table" tableValues="0.471 0.480 0.490 0.499 0.509 0.518 0.528 0.537 0.547 0.557 0.566 0.576 0.586 0.596 0.605 0.615 0.625 0.638 0.651 0.665 0.678 0.692 0.706 0.719 0.734 0.748 0.735 0.708 0.681 0.652 0.615 0.579 0.543 0.527 0.518 0.508 0.494 0.466 0.438 0.410 0.382 0.362 0.344 0.325 0.306 0.283 0.260 0.238 0.227 0.217 0.208 0.201 0.197 0.192 0.188 0.188 0.188 0.188 0.184 0.177 0.170 0.163 0.156 0.149 0.142 0.135 0.128 0.120 0.109 0.099 0.088 0.078 0.073 0.068 0.063 0.048 0.032 0.019 0.006 0.003 0.010 0.016 0.023 0.029 0.036 0.042 0.048 0.054 0.061 0.067 0.074 0.080 0.087 0.094 0.100 0.107 0.113 0.120 0.126 0.134 0.142 0.150 0.158 0.166 0.174 0.181 0.187 0.178 0.169 0.161 0.152 0.143 0.150 0.162 0.173 0.185 0.197 0.208 0.220 0.232 0.251 0.272 0.294 0.315 0.337 0.359 0.380 0.402 0.424"/></feComponentTransfer><feComposite in="c" in2="n1" operator="arithmetic" k1="0.64" k2="0.6799999999999999" k3="0" k4="0"/><feGaussianBlur stdDeviation="0.6"/></filter><filter id="cl" x="0" y="0" width="1749" height="861" filterUnits="userSpaceOnUse" color-interpolation-filters="sRGB"><feComponentTransfer><feFuncR type="table" tableValues="0.125 0.125 0.124 0.123 0.122 0.122 0.121 0.120 0.119 0.118 0.117 0.115 0.112 0.110 0.107 0.105 0.103 0.101 0.099 0.097 0.096 0.093 0.086 0.080 0.072 0.065 0.063 0.063 0.063 0.065 0.074 0.083 0.092 0.101 0.110 0.119 0.130 0.144 0.158 0.172 0.186 0.199 0.213 0.226 0.234 0.229 0.225 0.220 0.258 0.300 0.342 0.379 0.411 0.442 0.473 0.491 0.509 0.527 0.552 0.580 0.608 0.636 0.664 0.691 0.718 0.745 0.773 0.798 0.823 0.847 0.872 0.895 0.910 0.925 0.940 0.956 0.972 0.979 0.985 0.988 0.988 0.988 0.988 0.988 0.986 0.983 0.980 0.977 0.974 0.970 0.967 0.964 0.960 0.957 0.954 0.951 0.947 0.944 0.941 0.935 0.929 0.923 0.917 0.911 0.905 0.899 0.894 0.894 0.894 0.894 0.894 0.894 0.893 0.891 0.889 0.887 0.885 0.883 0.881 0.879 0.877 0.875 0.874 0.872 0.870 0.868 0.866 0.865 0.863"/><feFuncG type="table" tableValues="0.235 0.245 0.254 0.264 0.273 0.283 0.293 0.302 0.312 0.321 0.331 0.341 0.350 0.360 0.370 0.380 0.390 0.402 0.416 0.430 0.443 0.460 0.494 0.528 0.569 0.613 0.633 0.642 0.652 0.659 0.659 0.659 0.659 0.652 0.643 0.634 0.623 0.609 0.595 0.581 0.567 0.561 0.556 0.552 0.557 0.580 0.602 0.625 0.644 0.663 0.682 0.698 0.712 0.725 0.738 0.747 0.756 0.766 0.776 0.786 0.797 0.807 0.817 0.828 0.838 0.848 0.858 0.867 0.874 0.881 0.888 0.895 0.910 0.925 0.940 0.905 0.864 0.819 0.774 0.739 0.713 0.688 0.662 0.636 0.619 0.606 0.594 0.581 0.569 0.551 0.531 0.511 0.492 0.472 0.455 0.439 0.423 0.407 0.391 0.378 0.365 0.353 0.340 0.327 0.314 0.301 0.286 0.258 0.231 0.203 0.175 0.148 0.134 0.124 0.114 0.105 0.095 0.085 0.075 0.066 0.061 0.060 0.058 0.056 0.054 0.052 0.051 0.049 0.047"/><feFuncB type="table" tableValues="0.471 0.480 0.490 0.499 0.509 0.518 0.528 0.537 0.547 0.557 0.566 0.576 0.586 0.596 0.605 0.615 0.625 0.638 0.651 0.665 0.678 0.692 0.706 0.719 0.734 0.748 0.735 0.708 0.681 0.652 0.615 0.579 0.543 0.527 0.518 0.508 0.494 0.466 0.438 0.410 0.382 0.362 0.344 0.325 0.306 0.283 0.260 0.238 0.227 0.217 0.208 0.201 0.197 0.192 0.188 0.188 0.188 0.188 0.184 0.177 0.170 0.163 0.156 0.149 0.142 0.135 0.128 0.120 0.109 0.099 0.088 0.078 0.073 0.068 0.063 0.048 0.032 0.019 0.006 0.003 0.010 0.016 0.023 0.029 0.036 0.042 0.048 0.054 0.061 0.067 0.074 0.080 0.087 0.094 0.100 0.107 0.113 0.120 0.126 0.134 0.142 0.150 0.158 0.166 0.174 0.181 0.187 0.178 0.169 0.161 0.152 0.143 0.150 0.162 0.173 0.185 0.197 0.208 0.220 0.232 0.251 0.272 0.294 0.315 0.337 0.359 0.380 0.402 0.424"/></feComponentTransfer><feGaussianBlur stdDeviation="0.4"/></filter></defs><g filter="url(#cm)"><rect width="1749" height="861" fill="url(#pg)"/><rect x="735" width="85" height="861" fill="url(#pgb)"/><rect x="1457" width="292" height="861" fill="url(#pgd)"/><rect x="787.9" y="799.1" width="1" height="49.4" fill="rgb(125,128,140)" opacity="0.7"/><rect x="797.9" y="835.4" width="1" height="9.5" fill="rgb(108,128,140)" opacity="0.7"/><rect x="815.2" y="780.4" width="1" height="54.8" fill="rgb(95,128,140)" opacity="0.7"/><rect x="774.9" y="699.6" width="1" height="36.3" fill="rgb(112,128,140)" opacity="0.7"/><rect x="736.1" y="693.6" width="1" height="22.5" fill="rgb(124,128,140)" opacity="0.7"/><rect x="800.1" y="682.1" width="1" height="49.5" fill="rgb(96,128,140)" opacity="0.7"/><rect x="787.5" y="675.5" width="1" height="8.1" fill="rgb(122,128,140)" opacity="0.7"/><rect x="752.8" y="693.3" width="1" height="59.1" fill="rgb(122,128,140)" opacity="0.7"/><rect x="759.6" y="843.3" width="1" height="17.7" fill="rgb(115,128,140)" opacity="0.7"/><rect x="752.4" y="839.1" width="1" height="21.9" fill="rgb(126,128,140)" opacity="0.7"/><rect x="811.0" y="710.1" width="1" height="26.8" fill="rgb(97,128,140)" opacity="0.7"/><rect x="747.4" y="663.1" width="1" height="23.7" fill="rgb(113,128,140)" opacity="0.7"/><rect x="735.3" y="786.3" width="1" height="25.6" fill="rgb(102,128,140)" opacity="0.7"/><rect x="804.6" y="746.6" width="1" height="24.4" fill="rgb(108,128,140)" opacity="0.7"/><rect x="794.9" y="661.5" width="1" height="58.7" fill="rgb(92,128,140)" opacity="0.7"/><rect x="798.7" y="819.8" width="1" height="8.9" fill="rgb(119,128,140)" opacity="0.7"/><rect x="766.1" y="766.3" width="1" height="8.5" fill="rgb(93,128,140)" opacity="0.7"/><rect x="750.4" y="842.0" width="1" height="18.2" fill="rgb(118,128,140)" opacity="0.7"/><rect x="814.0" y="839.4" width="1" height="21.6" fill="rgb(104,128,140)" opacity="0.7"/><rect x="779.6" y="805.9" width="1" height="13.6" fill="rgb(118,128,140)" opacity="0.7"/><rect x="802.8" y="822.8" width="1" height="9.9" fill="rgb(125,128,140)" opacity="0.7"/><rect x="742.8" y="718.5" width="1" height="39.8" fill="rgb(124,128,140)" opacity="0.7"/><rect x="763.9" y="835.8" width="1" height="25.2" fill="rgb(102,128,140)" opacity="0.7"/><rect x="761.9" y="685.7" width="1" height="12.1" fill="rgb(96,128,140)" opacity="0.7"/><rect x="793.6" y="850.3" width="1" height="10.7" fill="rgb(93,128,140)" opacity="0.7"/><rect x="818.9" y="757.2" width="1" height="29.1" fill="rgb(100,128,140)" opacity="0.7"/><rect x="785.5" y="816.1" width="1" height="31.7" fill="rgb(106,128,140)" opacity="0.7"/><rect x="739.7" y="834.1" width="1" height="9.7" fill="rgb(109,128,140)" opacity="0.7"/><rect x="806.3" y="676.2" width="1" height="46.0" fill="rgb(125,128,140)" opacity="0.7"/><rect x="788.6" y="808.4" width="1" height="13.5" fill="rgb(107,128,140)" opacity="0.7"/><rect x="747.7" y="819.8" width="1" height="23.3" fill="rgb(107,128,140)" opacity="0.7"/><rect x="819.9" y="821.3" width="1" height="39.7" fill="rgb(107,128,140)" opacity="0.7"/><rect x="776.5" y="796.6" width="1" height="32.9" fill="rgb(102,128,140)" opacity="0.7"/><rect x="769.3" y="679.4" width="1" height="27.6" fill="rgb(126,128,140)" opacity="0.7"/><rect x="816.6" y="776.0" width="1" height="34.0" fill="rgb(103,128,140)" opacity="0.7"/><rect x="742.6" y="704.7" width="1" height="48.7" fill="rgb(122,128,140)" opacity="0.7"/><rect x="765.7" y="808.0" width="1" height="48.3" fill="rgb(116,128,140)" opacity="0.7"/><rect x="791.4" y="802.7" width="1" height="26.9" fill="rgb(116,128,140)" opacity="0.7"/><rect x="758.9" y="747.6" width="1" height="48.0" fill="rgb(116,128,140)" opacity="0.7"/><rect x="760.0" y="840.1" width="1" height="20.9" fill="rgb(112,128,140)" opacity="0.7"/><rect x="736.0" y="759.9" width="1" height="21.0" fill="rgb(115,128,140)" opacity="0.7"/><rect x="774.3" y="814.2" width="1" height="41.7" fill="rgb(120,128,140)" opacity="0.7"/><rect x="764.6" y="779.5" width="1" height="46.4" fill="rgb(121,128,140)" opacity="0.7"/><rect x="764.8" y="819.4" width="1" height="41.6" fill="rgb(116,128,140)" opacity="0.7"/><rect x="818.0" y="842.3" width="1" height="18.7" fill="rgb(110,128,140)" opacity="0.7"/><rect x="749.1" y="818.2" width="1" height="42.8" fill="rgb(108,128,140)" opacity="0.7"/><rect x="793.8" y="794.7" width="1" height="46.0" fill="rgb(97,128,140)" opacity="0.7"/><rect x="801.3" y="766.7" width="1" height="42.6" fill="rgb(106,128,140)" opacity="0.7"/><rect x="788.0" y="805.7" width="1" height="41.1" fill="rgb(117,128,140)" opacity="0.7"/><rect x="737.3" y="682.2" width="1" height="30.9" fill="rgb(114,128,140)" opacity="0.7"/><rect x="753.6" y="787.9" width="1" height="40.8" fill="rgb(93,128,140)" opacity="0.7"/><rect x="775.1" y="695.5" width="1" height="10.8" fill="rgb(96,128,140)" opacity="0.7"/><rect x="762.0" y="686.5" width="1" height="18.1" fill="rgb(92,128,140)" opacity="0.7"/><rect x="774.6" y="726.4" width="1" height="39.8" fill="rgb(112,128,140)" opacity="0.7"/><rect x="755.2" y="831.5" width="1" height="8.0" fill="rgb(106,128,140)" opacity="0.7"/><rect x="758.7" y="732.4" width="1" height="14.0" fill="rgb(121,128,140)" opacity="0.7"/><rect x="766.8" y="657.2" width="1" height="39.9" fill="rgb(95,128,140)" opacity="0.7"/><rect x="781.3" y="718.2" width="1" height="38.2" fill="rgb(125,128,140)" opacity="0.7"/><rect x="804.6" y="734.2" width="1" height="50.3" fill="rgb(114,128,140)" opacity="0.7"/><rect x="766.4" y="678.6" width="1" height="39.0" fill="rgb(111,128,140)" opacity="0.7"/><rect x="816.4" y="844.6" width="1" height="16.4" fill="rgb(104,128,140)" opacity="0.7"/><rect x="810.9" y="650.2" width="1" height="13.6" fill="rgb(111,128,140)" opacity="0.7"/><rect x="787.3" y="678.3" width="1" height="40.7" fill="rgb(123,128,140)" opacity="0.7"/><rect x="766.9" y="736.8" width="1" height="19.8" fill="rgb(102,128,140)" opacity="0.7"/><rect x="817.7" y="726.3" width="1" height="58.0" fill="rgb(124,128,140)" opacity="0.7"/><rect x="785.6" y="702.2" width="1" height="59.0" fill="rgb(109,128,140)" opacity="0.7"/><rect x="770.3" y="714.1" width="1" height="59.2" fill="rgb(109,128,140)" opacity="0.7"/><rect x="759.3" y="745.9" width="1" height="14.3" fill="rgb(113,128,140)" opacity="0.7"/><rect x="772.7" y="708.9" width="1" height="48.6" fill="rgb(121,128,140)" opacity="0.7"/><rect x="736.1" y="757.0" width="1" height="22.2" fill="rgb(125,128,140)" opacity="0.7"/><rect x="801.5" y="699.4" width="1" height="21.9" fill="rgb(97,128,140)" opacity="0.7"/><rect x="819.1" y="708.9" width="1" height="39.6" fill="rgb(108,128,140)" opacity="0.7"/><rect x="789.8" y="771.4" width="1" height="46.7" fill="rgb(95,128,140)" opacity="0.7"/><rect x="799.6" y="710.4" width="1" height="35.7" fill="rgb(103,128,140)" opacity="0.7"/><rect x="760.2" y="756.5" width="1" height="32.1" fill="rgb(104,128,140)" opacity="0.7"/><rect x="798.3" y="768.8" width="1" height="9.9" fill="rgb(100,128,140)" opacity="0.7"/><rect x="773.7" y="834.2" width="1" height="26.8" fill="rgb(111,128,140)" opacity="0.7"/><rect x="736.2" y="806.5" width="1" height="30.2" fill="rgb(112,128,140)" opacity="0.7"/><rect x="795.2" y="777.1" width="1" height="33.1" fill="rgb(124,128,140)" opacity="0.7"/><rect x="767.8" y="728.8" width="1" height="52.3" fill="rgb(98,128,140)" opacity="0.7"/><rect x="760.2" y="816.8" width="1" height="11.4" fill="rgb(121,128,140)" opacity="0.7"/><rect x="794.0" y="737.0" width="1" height="22.9" fill="rgb(119,128,140)" opacity="0.7"/><rect x="812.4" y="678.7" width="1" height="32.9" fill="rgb(111,128,140)" opacity="0.7"/><rect x="777.3" y="716.5" width="1" height="16.0" fill="rgb(112,128,140)" opacity="0.7"/><rect x="804.0" y="663.8" width="1" height="20.0" fill="rgb(120,128,140)" opacity="0.7"/><rect x="802.3" y="783.4" width="1" height="9.3" fill="rgb(117,128,140)" opacity="0.7"/><rect x="818.2" y="850.7" width="1" height="10.3" fill="rgb(93,128,140)" opacity="0.7"/><rect x="806.6" y="694.1" width="1" height="41.6" fill="rgb(125,128,140)" opacity="0.7"/><rect x="795.6" y="677.1" width="1" height="23.2" fill="rgb(124,128,140)" opacity="0.7"/><rect x="747.7" y="772.7" width="1" height="29.5" fill="rgb(97,128,140)" opacity="0.7"/><rect x="787.9" y="658.8" width="1" height="13.6" fill="rgb(105,128,140)" opacity="0.7"/><rect x="741.1" y="661.6" width="1" height="37.9" fill="rgb(118,128,140)" opacity="0.7"/><rect x="809.7" y="677.0" width="1" height="30.4" fill="rgb(102,128,140)" opacity="0.7"/><rect x="786.0" y="748.4" width="1" height="56.8" fill="rgb(105,128,140)" opacity="0.7"/><rect x="739.7" y="790.2" width="1" height="15.9" fill="rgb(114,128,140)" opacity="0.7"/><rect x="778.0" y="833.0" width="1" height="28.0" fill="rgb(113,128,140)" opacity="0.7"/><rect x="757.4" y="760.9" width="1" height="21.2" fill="rgb(118,128,140)" opacity="0.7"/><rect x="778.9" y="676.9" width="1" height="20.2" fill="rgb(104,128,140)" opacity="0.7"/><rect x="797.6" y="686.0" width="1" height="45.1" fill="rgb(115,128,140)" opacity="0.7"/><rect x="742.2" y="784.3" width="1" height="12.7" fill="rgb(96,128,140)" opacity="0.7"/><rect x="785.5" y="698.0" width="1" height="53.6" fill="rgb(108,128,140)" opacity="0.7"/><rect x="762.5" y="810.1" width="1" height="9.5" fill="rgb(117,128,140)" opacity="0.7"/><rect x="739.6" y="680.3" width="1" height="57.5" fill="rgb(115,128,140)" opacity="0.7"/><rect x="754.0" y="673.3" width="1" height="58.6" fill="rgb(115,128,140)" opacity="0.7"/><rect x="804.8" y="678.1" width="1" height="40.5" fill="rgb(104,128,140)" opacity="0.7"/><rect x="755.0" y="717.0" width="1" height="39.9" fill="rgb(104,128,140)" opacity="0.7"/><rect x="767.8" y="677.4" width="1" height="51.2" fill="rgb(114,128,140)" opacity="0.7"/><rect x="803.4" y="737.1" width="1" height="52.3" fill="rgb(110,128,140)" opacity="0.7"/><rect x="785.4" y="765.2" width="1" height="46.5" fill="rgb(105,128,140)" opacity="0.7"/><rect x="743.2" y="656.7" width="1" height="18.5" fill="rgb(93,128,140)" opacity="0.7"/><rect x="810.6" y="746.7" width="1" height="47.5" fill="rgb(91,128,140)" opacity="0.7"/><rect x="775.0" y="828.8" width="1" height="32.2" fill="rgb(106,128,140)" opacity="0.7"/><rect x="774.6" y="670.0" width="1" height="16.0" fill="rgb(97,128,140)" opacity="0.7"/><rect x="766.8" y="727.5" width="1" height="53.8" fill="rgb(97,128,140)" opacity="0.7"/><rect x="756.6" y="705.8" width="1" height="16.4" fill="rgb(101,128,140)" opacity="0.7"/><rect x="755.0" y="746.9" width="1" height="9.7" fill="rgb(124,128,140)" opacity="0.7"/><rect x="766.4" y="838.5" width="1" height="22.5" fill="rgb(115,128,140)" opacity="0.7"/><rect x="775.1" y="840.0" width="1" height="14.1" fill="rgb(115,128,140)" opacity="0.7"/><rect x="759.7" y="785.6" width="1" height="45.9" fill="rgb(97,128,140)" opacity="0.7"/><rect x="752.1" y="655.0" width="1" height="20.0" fill="rgb(94,128,140)" opacity="0.7"/><rect x="769.1" y="845.7" width="1" height="15.3" fill="rgb(102,128,140)" opacity="0.7"/><rect x="774.8" y="706.9" width="1" height="46.1" fill="rgb(117,128,140)" opacity="0.7"/><rect x="748.9" y="698.3" width="1" height="43.0" fill="rgb(125,128,140)" opacity="0.7"/><rect x="789.9" y="736.6" width="1" height="58.7" fill="rgb(91,128,140)" opacity="0.7"/><rect x="740.2" y="806.6" width="1" height="29.3" fill="rgb(93,128,140)" opacity="0.7"/><rect x="781.6" y="848.9" width="1" height="12.1" fill="rgb(104,128,140)" opacity="0.7"/><rect x="743.0" y="664.3" width="1" height="54.7" fill="rgb(109,128,140)" opacity="0.7"/><rect x="814.5" y="660.8" width="1" height="20.7" fill="rgb(93,128,140)" opacity="0.7"/><rect x="768.8" y="662.1" width="1" height="21.3" fill="rgb(106,128,140)" opacity="0.7"/><rect x="761.0" y="660.3" width="1" height="10.0" fill="rgb(126,128,140)" opacity="0.7"/><rect x="750.2" y="752.2" width="1" height="28.9" fill="rgb(110,128,140)" opacity="0.7"/><rect x="742.2" y="713.1" width="1" height="13.6" fill="rgb(111,128,140)" opacity="0.7"/><rect x="813.3" y="770.3" width="1" height="52.6" fill="rgb(99,128,140)" opacity="0.7"/><rect x="736.5" y="758.5" width="1" height="33.3" fill="rgb(112,128,140)" opacity="0.7"/><rect x="767.0" y="775.6" width="1" height="45.7" fill="rgb(124,128,140)" opacity="0.7"/><rect x="761.1" y="740.3" width="1" height="51.0" fill="rgb(99,128,140)" opacity="0.7"/><rect x="744.8" y="712.7" width="1" height="12.6" fill="rgb(119,128,140)" opacity="0.7"/><rect x="804.7" y="712.9" width="1" height="14.8" fill="rgb(94,128,140)" opacity="0.7"/><rect x="755.8" y="666.9" width="1" height="30.3" fill="rgb(112,128,140)" opacity="0.7"/><rect x="755.9" y="662.3" width="1" height="44.4" fill="rgb(93,128,140)" opacity="0.7"/><rect x="1101.2" y="706.8" width="1" height="27.4" fill="rgb(95,128,140)" opacity="0.7"/><rect x="1106.9" y="712.4" width="1" height="47.1" fill="rgb(111,128,140)" opacity="0.7"/><rect x="1119.3" y="781.1" width="1" height="47.5" fill="rgb(112,128,140)" opacity="0.7"/><rect x="1107.5" y="814.0" width="1" height="42.1" fill="rgb(125,128,140)" opacity="0.7"/><rect x="1114.9" y="790.6" width="1" height="21.9" fill="rgb(120,128,140)" opacity="0.7"/><rect x="1105.9" y="675.3" width="1" height="11.4" fill="rgb(97,128,140)" opacity="0.7"/><rect x="1102.8" y="785.5" width="1" height="22.8" fill="rgb(93,128,140)" opacity="0.7"/><rect x="1115.9" y="761.6" width="1" height="9.4" fill="rgb(93,128,140)" opacity="0.7"/><rect x="1099.4" y="721.1" width="1" height="52.7" fill="rgb(125,128,140)" opacity="0.7"/><rect x="1111.9" y="695.7" width="1" height="30.3" fill="rgb(104,128,140)" opacity="0.7"/><rect x="1104.6" y="651.5" width="1" height="38.4" fill="rgb(121,128,140)" opacity="0.7"/><rect x="1114.9" y="668.2" width="1" height="35.6" fill="rgb(97,128,140)" opacity="0.7"/><rect x="1114.4" y="739.1" width="1" height="56.8" fill="rgb(120,128,140)" opacity="0.7"/><rect x="1099.1" y="713.0" width="1" height="55.6" fill="rgb(108,128,140)" opacity="0.7"/><rect x="1107.3" y="738.2" width="1" height="47.9" fill="rgb(125,128,140)" opacity="0.7"/><rect x="1109.8" y="844.9" width="1" height="16.1" fill="rgb(95,128,140)" opacity="0.7"/><rect x="1117.2" y="733.7" width="1" height="10.7" fill="rgb(126,128,140)" opacity="0.7"/><rect x="1096.9" y="765.6" width="1" height="33.1" fill="rgb(123,128,140)" opacity="0.7"/><rect x="1106.2" y="692.6" width="1" height="22.4" fill="rgb(98,128,140)" opacity="0.7"/><rect x="1110.6" y="721.1" width="1" height="47.1" fill="rgb(100,128,140)" opacity="0.7"/><rect x="1105.1" y="699.1" width="1" height="59.1" fill="rgb(121,128,140)" opacity="0.7"/><rect x="1118.1" y="773.9" width="1" height="28.8" fill="rgb(96,128,140)" opacity="0.7"/><rect x="1117.6" y="748.0" width="1" height="10.0" fill="rgb(97,128,140)" opacity="0.7"/><rect x="1098.6" y="794.0" width="1" height="54.8" fill="rgb(98,128,140)" opacity="0.7"/><rect x="1116.7" y="714.5" width="1" height="43.5" fill="rgb(122,128,140)" opacity="0.7"/><rect x="1112.2" y="810.7" width="1" height="27.6" fill="rgb(92,128,140)" opacity="0.7"/><rect x="1109.3" y="767.5" width="1" height="17.6" fill="rgb(105,128,140)" opacity="0.7"/><rect x="1104.2" y="654.5" width="1" height="24.2" fill="rgb(105,128,140)" opacity="0.7"/><rect x="1108.4" y="791.1" width="1" height="28.8" fill="rgb(126,128,140)" opacity="0.7"/><rect x="1117.2" y="835.6" width="1" height="25.4" fill="rgb(115,128,140)" opacity="0.7"/><rect x="1110.0" y="810.3" width="1" height="26.9" fill="rgb(112,128,140)" opacity="0.7"/><rect x="1113.7" y="754.5" width="1" height="22.8" fill="rgb(94,128,140)" opacity="0.7"/><rect x="1098.3" y="720.9" width="1" height="38.2" fill="rgb(118,128,140)" opacity="0.7"/><rect x="1114.6" y="711.0" width="1" height="56.3" fill="rgb(101,128,140)" opacity="0.7"/><rect x="1114.6" y="663.6" width="1" height="47.2" fill="rgb(115,128,140)" opacity="0.7"/><rect x="1120.9" y="830.2" width="1" height="30.8" fill="rgb(121,128,140)" opacity="0.7"/><rect x="1115.2" y="772.4" width="1" height="18.9" fill="rgb(110,128,140)" opacity="0.7"/><rect x="1119.3" y="697.3" width="1" height="58.7" fill="rgb(111,128,140)" opacity="0.7"/><rect x="1106.2" y="649.6" width="1" height="28.3" fill="rgb(98,128,140)" opacity="0.7"/><rect x="1113.0" y="830.7" width="1" height="30.3" fill="rgb(113,128,140)" opacity="0.7"/><rect x="1106.1" y="671.0" width="1" height="43.8" fill="rgb(111,128,140)" opacity="0.7"/><rect x="1114.6" y="724.6" width="1" height="54.1" fill="rgb(99,128,140)" opacity="0.7"/><rect x="1103.9" y="703.1" width="1" height="40.4" fill="rgb(123,128,140)" opacity="0.7"/><rect x="1100.4" y="776.8" width="1" height="47.9" fill="rgb(99,128,140)" opacity="0.7"/><rect x="1097.6" y="763.3" width="1" height="51.2" fill="rgb(123,128,140)" opacity="0.7"/><rect x="1114.9" y="733.2" width="1" height="30.1" fill="rgb(110,128,140)" opacity="0.7"/><rect x="1119.5" y="710.1" width="1" height="22.6" fill="rgb(113,128,140)" opacity="0.7"/><rect x="1121.1" y="686.8" width="1" height="9.6" fill="rgb(95,128,140)" opacity="0.7"/><rect x="1110.6" y="770.9" width="1" height="17.6" fill="rgb(98,128,140)" opacity="0.7"/><rect x="1111.5" y="779.6" width="1" height="43.9" fill="rgb(117,128,140)" opacity="0.7"/><rect x="1097.6" y="746.9" width="1" height="51.4" fill="rgb(125,128,140)" opacity="0.7"/><rect x="1104.3" y="820.8" width="1" height="40.2" fill="rgb(124,128,140)" opacity="0.7"/><rect x="1102.0" y="789.8" width="1" height="51.7" fill="rgb(108,128,140)" opacity="0.7"/><rect x="1098.6" y="688.1" width="1" height="16.1" fill="rgb(94,128,140)" opacity="0.7"/><rect x="1100.0" y="773.4" width="1" height="13.5" fill="rgb(118,128,140)" opacity="0.7"/><rect x="1115.1" y="813.9" width="1" height="47.1" fill="rgb(117,128,140)" opacity="0.7"/><rect x="1120.0" y="842.3" width="1" height="18.7" fill="rgb(126,128,140)" opacity="0.7"/><rect x="1098.7" y="669.8" width="1" height="11.4" fill="rgb(99,128,140)" opacity="0.7"/><rect x="1105.7" y="741.7" width="1" height="43.4" fill="rgb(118,128,140)" opacity="0.7"/><rect x="1098.2" y="730.5" width="1" height="36.3" fill="rgb(105,128,140)" opacity="0.7"/><rect x="1099.1" y="769.6" width="1" height="27.5" fill="rgb(116,128,140)" opacity="0.7"/><rect x="1108.9" y="843.5" width="1" height="17.5" fill="rgb(94,128,140)" opacity="0.7"/><rect x="1115.8" y="794.7" width="1" height="23.4" fill="rgb(95,128,140)" opacity="0.7"/><rect x="1108.5" y="720.5" width="1" height="46.3" fill="rgb(124,128,140)" opacity="0.7"/><rect x="1105.9" y="707.7" width="1" height="33.9" fill="rgb(116,128,140)" opacity="0.7"/><rect x="1116.5" y="765.3" width="1" height="23.4" fill="rgb(103,128,140)" opacity="0.7"/><rect x="1118.0" y="753.9" width="1" height="10.6" fill="rgb(106,128,140)" opacity="0.7"/><rect x="1102.2" y="783.6" width="1" height="11.8" fill="rgb(101,128,140)" opacity="0.7"/><rect x="1098.5" y="745.5" width="1" height="59.2" fill="rgb(110,128,140)" opacity="0.7"/><rect x="1106.0" y="837.7" width="1" height="12.8" fill="rgb(104,128,140)" opacity="0.7"/><rect x="1117.1" y="650.0" width="1" height="47.8" fill="rgb(104,128,140)" opacity="0.7"/><rect x="1096.4" y="699.7" width="1" height="31.8" fill="rgb(105,128,140)" opacity="0.7"/><rect x="1109.4" y="659.7" width="1" height="19.4" fill="rgb(126,128,140)" opacity="0.7"/><rect x="1107.5" y="744.3" width="1" height="12.4" fill="rgb(101,128,140)" opacity="0.7"/><rect x="1120.8" y="787.8" width="1" height="34.4" fill="rgb(93,128,140)" opacity="0.7"/><rect x="1106.2" y="806.2" width="1" height="30.6" fill="rgb(112,128,140)" opacity="0.7"/><rect x="1119.5" y="779.3" width="1" height="41.1" fill="rgb(92,128,140)" opacity="0.7"/><rect x="1096.6" y="804.5" width="1" height="29.5" fill="rgb(122,128,140)" opacity="0.7"/><rect x="1117.5" y="833.9" width="1" height="27.1" fill="rgb(127,128,140)" opacity="0.7"/><rect x="1115.7" y="829.1" width="1" height="15.7" fill="rgb(119,128,140)" opacity="0.7"/><rect x="1095.7" y="847.6" width="1" height="13.4" fill="rgb(99,128,140)" opacity="0.7"/><rect x="1095.3" y="762.8" width="1" height="32.4" fill="rgb(101,128,140)" opacity="0.7"/><rect x="1240.9" y="744.9" width="1" height="16.8" fill="rgb(108,128,140)" opacity="0.7"/><rect x="888.9" y="776.1" width="1" height="54.7" fill="rgb(123,128,140)" opacity="0.7"/><rect x="961.7" y="732.2" width="1" height="51.1" fill="rgb(125,128,140)" opacity="0.7"/><rect x="1200.8" y="746.5" width="1" height="20.3" fill="rgb(124,128,140)" opacity="0.7"/><rect x="1401.9" y="733.8" width="1" height="17.6" fill="rgb(106,128,140)" opacity="0.7"/><rect x="1003.4" y="821.2" width="1" height="27.4" fill="rgb(119,128,140)" opacity="0.7"/><rect x="935.3" y="792.7" width="1" height="58.7" fill="rgb(116,128,140)" opacity="0.7"/><rect x="898.5" y="743.4" width="1" height="41.5" fill="rgb(105,128,140)" opacity="0.7"/><rect x="1064.0" y="787.8" width="1" height="38.2" fill="rgb(126,128,140)" opacity="0.7"/><rect x="988.1" y="798.8" width="1" height="21.7" fill="rgb(111,128,140)" opacity="0.7"/><rect x="1279.5" y="746.2" width="1" height="33.0" fill="rgb(116,128,140)" opacity="0.7"/><rect x="849.8" y="823.3" width="1" height="29.8" fill="rgb(109,128,140)" opacity="0.7"/><rect x="1207.6" y="825.9" width="1" height="10.9" fill="rgb(109,128,140)" opacity="0.7"/><rect x="867.7" y="776.6" width="1" height="26.0" fill="rgb(92,128,140)" opacity="0.7"/><rect x="1021.9" y="784.5" width="1" height="42.1" fill="rgb(124,128,140)" opacity="0.7"/><rect x="1065.0" y="794.1" width="1" height="45.1" fill="rgb(125,128,140)" opacity="0.7"/><rect x="1409.1" y="849.6" width="1" height="11.4" fill="rgb(97,128,140)" opacity="0.7"/><rect x="1398.5" y="739.4" width="1" height="31.3" fill="rgb(117,128,140)" opacity="0.7"/><rect x="1159.1" y="777.0" width="1" height="56.1" fill="rgb(102,128,140)" opacity="0.7"/><rect x="1172.7" y="830.4" width="1" height="15.2" fill="rgb(104,128,140)" opacity="0.7"/><rect x="1138.6" y="798.5" width="1" height="18.8" fill="rgb(107,128,140)" opacity="0.7"/><rect x="880.5" y="740.6" width="1" height="25.8" fill="rgb(96,128,140)" opacity="0.7"/><rect x="1419.7" y="761.9" width="1" height="22.3" fill="rgb(119,128,140)" opacity="0.7"/><rect x="1285.2" y="761.7" width="1" height="51.1" fill="rgb(114,128,140)" opacity="0.7"/><rect x="1075.8" y="806.1" width="1" height="20.8" fill="rgb(101,128,140)" opacity="0.7"/><rect x="1365.7" y="783.1" width="1" height="54.7" fill="rgb(97,128,140)" opacity="0.7"/><rect x="926.6" y="736.3" width="1" height="46.5" fill="rgb(111,128,140)" opacity="0.7"/><rect x="850.7" y="735.2" width="1" height="50.9" fill="rgb(109,128,140)" opacity="0.7"/><rect x="1362.6" y="734.8" width="1" height="38.6" fill="rgb(95,128,140)" opacity="0.7"/><rect x="1273.3" y="804.0" width="1" height="39.8" fill="rgb(99,128,140)" opacity="0.7"/><rect x="1408.7" y="743.4" width="1" height="11.3" fill="rgb(116,128,140)" opacity="0.7"/><rect x="900.1" y="738.1" width="1" height="31.9" fill="rgb(114,128,140)" opacity="0.7"/><rect x="1374.9" y="817.2" width="1" height="11.6" fill="rgb(114,128,140)" opacity="0.7"/><rect x="1346.1" y="744.6" width="1" height="47.2" fill="rgb(100,128,140)" opacity="0.7"/><rect x="1022.4" y="730.2" width="1" height="47.4" fill="rgb(110,128,140)" opacity="0.7"/><rect x="1380.8" y="786.3" width="1" height="16.1" fill="rgb(99,128,140)" opacity="0.7"/><rect x="1001.4" y="844.6" width="1" height="16.4" fill="rgb(94,128,140)" opacity="0.7"/><rect x="1054.5" y="739.6" width="1" height="30.1" fill="rgb(113,128,140)" opacity="0.7"/><rect x="1647.0" y="668.6" width="1" height="15.2" fill="rgb(109,128,140)" opacity="0.7"/><rect x="1657.7" y="728.8" width="1" height="37.8" fill="rgb(124,128,140)" opacity="0.7"/><rect x="1499.4" y="689.2" width="1" height="33.7" fill="rgb(110,128,140)" opacity="0.7"/><rect x="1719.9" y="752.7" width="1" height="42.4" fill="rgb(106,128,140)" opacity="0.7"/><rect x="1686.0" y="814.7" width="1" height="23.3" fill="rgb(95,128,140)" opacity="0.7"/><rect x="1532.7" y="709.0" width="1" height="54.3" fill="rgb(101,128,140)" opacity="0.7"/><rect x="1640.8" y="771.6" width="1" height="57.7" fill="rgb(95,128,140)" opacity="0.7"/><rect x="1681.8" y="704.3" width="1" height="13.4" fill="rgb(114,128,140)" opacity="0.7"/><rect x="1703.5" y="758.7" width="1" height="10.6" fill="rgb(126,128,140)" opacity="0.7"/><rect x="1569.2" y="770.6" width="1" height="45.6" fill="rgb(100,128,140)" opacity="0.7"/><rect x="1576.2" y="702.8" width="1" height="13.0" fill="rgb(93,128,140)" opacity="0.7"/><rect x="1666.3" y="720.7" width="1" height="53.2" fill="rgb(93,128,140)" opacity="0.7"/><rect x="1545.0" y="669.8" width="1" height="57.1" fill="rgb(119,128,140)" opacity="0.7"/><rect x="1718.7" y="741.9" width="1" height="13.4" fill="rgb(106,128,140)" opacity="0.7"/><rect x="1523.0" y="635.9" width="1" height="37.4" fill="rgb(102,128,140)" opacity="0.7"/><rect x="1488.5" y="743.1" width="1" height="56.5" fill="rgb(125,128,140)" opacity="0.7"/><rect x="1593.1" y="652.7" width="1" height="48.0" fill="rgb(95,128,140)" opacity="0.7"/><rect x="1613.9" y="648.5" width="1" height="59.3" fill="rgb(111,128,140)" opacity="0.7"/><rect x="1584.7" y="690.2" width="1" height="36.6" fill="rgb(126,128,140)" opacity="0.7"/><rect x="1581.9" y="676.2" width="1" height="34.8" fill="rgb(124,128,140)" opacity="0.7"/><rect x="1568.5" y="770.1" width="1" height="55.8" fill="rgb(103,128,140)" opacity="0.7"/><rect x="1693.8" y="746.9" width="1" height="15.3" fill="rgb(93,128,140)" opacity="0.7"/><rect x="1731.2" y="733.0" width="1" height="31.0" fill="rgb(124,128,140)" opacity="0.7"/><rect x="1624.6" y="740.5" width="1" height="22.8" fill="rgb(118,128,140)" opacity="0.7"/><rect x="1531.8" y="734.0" width="1" height="47.4" fill="rgb(113,128,140)" opacity="0.7"/><rect x="1496.2" y="674.8" width="1" height="44.1" fill="rgb(117,128,140)" opacity="0.7"/><rect x="1487.0" y="850.5" width="1" height="10.5" fill="rgb(97,128,140)" opacity="0.7"/><rect x="1483.2" y="728.7" width="1" height="40.2" fill="rgb(122,128,140)" opacity="0.7"/><rect x="1504.6" y="784.4" width="1" height="13.5" fill="rgb(112,128,140)" opacity="0.7"/><rect x="1530.5" y="708.7" width="1" height="10.7" fill="rgb(117,128,140)" opacity="0.7"/><rect x="1492.7" y="798.9" width="1" height="25.5" fill="rgb(112,128,140)" opacity="0.7"/><rect x="1643.6" y="738.0" width="1" height="53.4" fill="rgb(124,128,140)" opacity="0.7"/><rect x="1539.4" y="703.8" width="1" height="53.6" fill="rgb(96,128,140)" opacity="0.7"/><rect x="1579.7" y="721.6" width="1" height="58.8" fill="rgb(96,128,140)" opacity="0.7"/><rect x="1648.3" y="797.3" width="1" height="45.9" fill="rgb(91,128,140)" opacity="0.7"/><rect x="1732.5" y="699.1" width="1" height="52.4" fill="rgb(115,128,140)" opacity="0.7"/><rect x="1579.9" y="815.1" width="1" height="43.1" fill="rgb(103,128,140)" opacity="0.7"/><rect x="1670.7" y="741.6" width="1" height="45.0" fill="rgb(113,128,140)" opacity="0.7"/><rect x="1689.4" y="665.2" width="1" height="33.7" fill="rgb(91,128,140)" opacity="0.7"/><rect x="1687.9" y="800.5" width="1" height="51.5" fill="rgb(93,128,140)" opacity="0.7"/><rect x="1613.3" y="735.8" width="1" height="14.2" fill="rgb(98,128,140)" opacity="0.7"/><rect x="1741.5" y="818.4" width="1" height="20.4" fill="rgb(121,128,140)" opacity="0.7"/><rect x="1647.1" y="715.1" width="1" height="41.5" fill="rgb(99,128,140)" opacity="0.7"/><rect x="1536.9" y="632.2" width="1" height="42.1" fill="rgb(112,128,140)" opacity="0.7"/><rect x="1674.1" y="741.3" width="1" height="30.6" fill="rgb(102,128,140)" opacity="0.7"/><rect x="1671.7" y="712.4" width="1" height="39.0" fill="rgb(118,128,140)" opacity="0.7"/><rect x="1586.8" y="781.6" width="1" height="11.2" fill="rgb(100,128,140)" opacity="0.7"/><rect x="1702.5" y="662.6" width="1" height="11.0" fill="rgb(92,128,140)" opacity="0.7"/><rect x="1680.7" y="653.5" width="1" height="31.8" fill="rgb(107,128,140)" opacity="0.7"/><rect x="1691.4" y="735.3" width="1" height="35.1" fill="rgb(92,128,140)" opacity="0.7"/><rect x="1689.2" y="799.6" width="1" height="40.4" fill="rgb(121,128,140)" opacity="0.7"/><rect x="1636.3" y="788.2" width="1" height="52.3" fill="rgb(113,128,140)" opacity="0.7"/><rect x="1462.9" y="825.5" width="1" height="35.5" fill="rgb(98,128,140)" opacity="0.7"/><rect x="1476.3" y="705.1" width="1" height="13.2" fill="rgb(104,128,140)" opacity="0.7"/><rect x="1483.0" y="678.7" width="1" height="8.2" fill="rgb(106,128,140)" opacity="0.7"/><rect x="1544.6" y="791.1" width="1" height="28.2" fill="rgb(97,128,140)" opacity="0.7"/><rect x="1735.4" y="827.7" width="1" height="33.3" fill="rgb(99,128,140)" opacity="0.7"/><rect x="1574.6" y="729.7" width="1" height="29.3" fill="rgb(92,128,140)" opacity="0.7"/><rect x="1590.1" y="799.7" width="1" height="44.1" fill="rgb(122,128,140)" opacity="0.7"/><rect x="1656.4" y="798.6" width="1" height="53.3" fill="rgb(124,128,140)" opacity="0.7"/><rect x="1688.6" y="722.0" width="1" height="42.3" fill="rgb(115,128,140)" opacity="0.7"/><rect x="1714.8" y="787.7" width="1" height="31.1" fill="rgb(98,128,140)" opacity="0.7"/><rect x="1552.6" y="685.3" width="1" height="43.5" fill="rgb(119,128,140)" opacity="0.7"/><rect x="1513.1" y="747.9" width="1" height="51.7" fill="rgb(104,128,140)" opacity="0.7"/><rect x="1484.7" y="763.8" width="1" height="26.8" fill="rgb(96,128,140)" opacity="0.7"/><rect x="1541.1" y="631.5" width="1" height="15.7" fill="rgb(106,128,140)" opacity="0.7"/><rect x="1487.6" y="631.3" width="1" height="36.6" fill="rgb(125,128,140)" opacity="0.7"/><rect x="1700.5" y="702.1" width="1" height="56.1" fill="rgb(94,128,140)" opacity="0.7"/><rect x="1500.9" y="631.5" width="1" height="11.0" fill="rgb(113,128,140)" opacity="0.7"/><rect x="1678.0" y="735.6" width="1" height="49.8" fill="rgb(107,128,140)" opacity="0.7"/><rect x="1725.3" y="764.4" width="1" height="35.9" fill="rgb(97,128,140)" opacity="0.7"/><rect x="1581.5" y="727.3" width="1" height="50.8" fill="rgb(99,128,140)" opacity="0.7"/><rect x="1543.0" y="810.5" width="1" height="11.7" fill="rgb(110,128,140)" opacity="0.7"/><rect x="1521.1" y="777.0" width="1" height="38.9" fill="rgb(95,128,140)" opacity="0.7"/><rect x="1670.2" y="720.0" width="1" height="24.7" fill="rgb(122,128,140)" opacity="0.7"/><rect x="1684.4" y="698.4" width="1" height="43.2" fill="rgb(96,128,140)" opacity="0.7"/><rect x="1608.5" y="648.2" width="1" height="41.3" fill="rgb(124,128,140)" opacity="0.7"/><rect x="1642.8" y="639.0" width="1" height="34.7" fill="rgb(108,128,140)" opacity="0.7"/><rect x="1586.4" y="663.4" width="1" height="22.5" fill="rgb(107,128,140)" opacity="0.7"/><rect x="1477.8" y="779.0" width="1" height="20.7" fill="rgb(102,128,140)" opacity="0.7"/><rect x="1483.5" y="696.9" width="1" height="56.4" fill="rgb(102,128,140)" opacity="0.7"/><rect x="1485.0" y="706.4" width="1" height="57.1" fill="rgb(94,128,140)" opacity="0.7"/><rect x="1557.0" y="676.2" width="1" height="43.5" fill="rgb(108,128,140)" opacity="0.7"/><rect x="1485.7" y="820.6" width="1" height="25.1" fill="rgb(116,128,140)" opacity="0.7"/><rect x="1589.2" y="822.7" width="1" height="11.0" fill="rgb(99,128,140)" opacity="0.7"/><rect x="1540.4" y="688.4" width="1" height="50.7" fill="rgb(109,128,140)" opacity="0.7"/><rect x="1558.2" y="742.0" width="1" height="52.0" fill="rgb(112,128,140)" opacity="0.7"/><rect x="1588.8" y="775.2" width="1" height="40.0" fill="rgb(106,128,140)" opacity="0.7"/><rect x="1581.5" y="659.1" width="1" height="30.8" fill="rgb(123,128,140)" opacity="0.7"/><rect x="1546.4" y="710.7" width="1" height="39.4" fill="rgb(112,128,140)" opacity="0.7"/><rect x="1508.2" y="728.5" width="1" height="46.2" fill="rgb(93,128,140)" opacity="0.7"/><rect x="1488.8" y="796.9" width="1" height="55.1" fill="rgb(94,128,140)" opacity="0.7"/><rect x="1480.8" y="768.5" width="1" height="22.8" fill="rgb(115,128,140)" opacity="0.7"/><rect x="1467.0" y="730.9" width="1" height="16.4" fill="rgb(103,128,140)" opacity="0.7"/><rect x="1659.5" y="742.7" width="1" height="52.4" fill="rgb(121,128,140)" opacity="0.7"/><rect x="1637.9" y="817.3" width="1" height="17.2" fill="rgb(108,128,140)" opacity="0.7"/><rect x="1550.3" y="768.1" width="1" height="13.8" fill="rgb(123,128,140)" opacity="0.7"/><rect x="1565.2" y="803.2" width="1" height="57.0" fill="rgb(125,128,140)" opacity="0.7"/><rect x="1570.9" y="819.4" width="1" height="41.6" fill="rgb(96,128,140)" opacity="0.7"/><rect x="1675.3" y="790.7" width="1" height="31.8" fill="rgb(101,128,140)" opacity="0.7"/><rect x="1507.6" y="721.0" width="1" height="56.5" fill="rgb(106,128,140)" opacity="0.7"/><rect x="1531.6" y="766.9" width="1" height="30.7" fill="rgb(113,128,140)" opacity="0.7"/><rect x="1589.7" y="693.3" width="1" height="9.8" fill="rgb(120,128,140)" opacity="0.7"/><rect x="1649.4" y="683.9" width="1" height="34.0" fill="rgb(112,128,140)" opacity="0.7"/><rect x="1604.0" y="829.1" width="1" height="31.9" fill="rgb(102,128,140)" opacity="0.7"/><rect x="1555.9" y="765.2" width="1" height="16.4" fill="rgb(125,128,140)" opacity="0.7"/><rect x="1470.3" y="740.4" width="1" height="22.2" fill="rgb(110,128,140)" opacity="0.7"/><rect x="1470.3" y="679.6" width="1" height="59.4" fill="rgb(119,128,140)" opacity="0.7"/><rect x="1521.5" y="730.8" width="1" height="9.7" fill="rgb(96,128,140)" opacity="0.7"/><rect x="1513.0" y="847.5" width="1" height="13.5" fill="rgb(100,128,140)" opacity="0.7"/><rect x="41.2" y="743.3" width="1" height="59.8" fill="rgb(118,128,140)" opacity="0.7"/><rect x="502.1" y="831.1" width="1" height="29.9" fill="rgb(100,128,140)" opacity="0.7"/><rect x="97.1" y="762.7" width="1" height="11.4" fill="rgb(97,128,140)" opacity="0.7"/><rect x="394.0" y="789.4" width="1" height="8.5" fill="rgb(102,128,140)" opacity="0.7"/><rect x="463.9" y="833.0" width="1" height="28.0" fill="rgb(117,128,140)" opacity="0.7"/><rect x="497.4" y="797.4" width="1" height="27.9" fill="rgb(112,128,140)" opacity="0.7"/><rect x="158.2" y="734.4" width="1" height="21.5" fill="rgb(107,128,140)" opacity="0.7"/><rect x="70.8" y="739.8" width="1" height="20.9" fill="rgb(104,128,140)" opacity="0.7"/><rect x="521.9" y="788.9" width="1" height="51.5" fill="rgb(118,128,140)" opacity="0.7"/><rect x="325.3" y="769.0" width="1" height="28.4" fill="rgb(102,128,140)" opacity="0.7"/><rect x="347.9" y="833.5" width="1" height="27.5" fill="rgb(102,128,140)" opacity="0.7"/><rect x="86.6" y="731.1" width="1" height="38.4" fill="rgb(99,128,140)" opacity="0.7"/><rect x="9.0" y="766.5" width="1" height="19.9" fill="rgb(98,128,140)" opacity="0.7"/><rect x="364.1" y="800.7" width="1" height="22.6" fill="rgb(117,128,140)" opacity="0.7"/><rect x="117.3" y="841.5" width="1" height="14.2" fill="rgb(112,128,140)" opacity="0.7"/><rect x="385.9" y="818.6" width="1" height="33.3" fill="rgb(122,128,140)" opacity="0.7"/><rect x="345.1" y="813.6" width="1" height="12.1" fill="rgb(98,128,140)" opacity="0.7"/><rect x="257.0" y="796.0" width="1" height="12.9" fill="rgb(118,128,140)" opacity="0.7"/><rect x="192.8" y="787.5" width="1" height="35.1" fill="rgb(121,128,140)" opacity="0.7"/><rect x="168.8" y="797.7" width="1" height="39.5" fill="rgb(115,128,140)" opacity="0.7"/><rect x="174.3" y="763.8" width="1" height="32.5" fill="rgb(113,128,140)" opacity="0.7"/><rect x="353.5" y="746.2" width="1" height="31.2" fill="rgb(111,128,140)" opacity="0.7"/><rect x="111.0" y="742.4" width="1" height="56.3" fill="rgb(92,128,140)" opacity="0.7"/><rect x="274.8" y="765.7" width="1" height="9.6" fill="rgb(101,128,140)" opacity="0.7"/><rect x="93.0" y="778.4" width="1" height="55.3" fill="rgb(94,128,140)" opacity="0.7"/></g><g filter="url(#cl)"><rect x="0" y="84.5" width="1749" height="3.5" fill="rgb(158,158,158)"/><rect x="0" y="85" width="1749" height="2.5" fill="rgb(201,201,201)"/><rect x="0" y="125.5" width="1749" height="1.5" fill="rgb(125,125,125)"/><rect x="0" y="182" width="1749" height="1" fill="rgb(110,110,110)"/><rect x="0" y="195" width="1749" height="1" fill="rgb(110,110,110)"/><rect x="0" y="227" width="1749" height="1" fill="rgb(112,112,112)"/><rect x="845" y="223" width="904" height="1" fill="rgb(112,112,112)"/><rect x="1129" y="191" width="620" height="1.5" fill="rgb(138,138,138)"/><rect x="1129" y="238.5" width="620" height="1.5" fill="rgb(138,138,138)"/><rect x="0" y="250" width="1749" height="2" fill="rgb(147,147,147)"/><rect x="0" y="259" width="58" height="4" fill="rgb(148,148,148)"/><rect x="95" y="259" width="687" height="4" fill="rgb(148,148,148)"/><rect x="820" y="259" width="686" height="4" fill="rgb(148,148,148)"/><rect x="1543" y="259" width="206" height="4" fill="rgb(148,148,148)"/><rect x="0" y="260" width="58" height="2" fill="rgb(170,170,170)"/><rect x="95" y="260" width="687" height="2" fill="rgb(170,170,170)"/><rect x="820" y="260" width="686" height="2" fill="rgb(170,170,170)"/><rect x="1543" y="260" width="206" height="2" fill="rgb(170,170,170)"/><rect x="0" y="303" width="1749" height="3" fill="rgb(147,147,147)"/><rect x="0" y="341" width="1749" height="6" fill="rgb(168,168,168)"/><rect x="0" y="342" width="1749" height="3.5" fill="rgb(219,219,219)"/><rect x="0" y="447" width="1749" height="6" fill="rgb(168,168,168)"/><rect x="0" y="448" width="1749" height="3.5" fill="rgb(214,214,214)"/><rect x="0" y="498.5" width="1749" height="1.5" fill="rgb(158,158,158)"/><rect x="0" y="558.5" width="58" height="5" fill="rgb(148,148,148)"/><rect x="95" y="558.5" width="687" height="5" fill="rgb(148,148,148)"/><rect x="820" y="558.5" width="686" height="5" fill="rgb(148,148,148)"/><rect x="1543" y="558.5" width="206" height="5" fill="rgb(148,148,148)"/><rect x="0" y="559.7" width="58" height="2.6" fill="rgb(219,219,219)"/><rect x="95" y="559.7" width="687" height="2.6" fill="rgb(219,219,219)"/><rect x="820" y="559.7" width="686" height="2.6" fill="rgb(219,219,219)"/><rect x="1543" y="559.7" width="206" height="2.6" fill="rgb(219,219,219)"/><rect x="0" y="587.5" width="1749" height="2.8" fill="rgb(147,147,147)"/><rect x="0" y="600" width="1749" height="7" fill="rgb(148,148,148)"/><rect x="0" y="600.5" width="1749" height="1" fill="rgb(184,184,184)"/><rect x="0" y="601.3" width="1749" height="3.2" fill="rgb(219,219,219)"/><rect x="0" y="602.6" width="1749" height="1.2" fill="rgb(237,237,237)"/><rect x="0" y="637" width="1749" height="1" fill="rgb(102,102,102)"/><rect x="0" y="644" width="58" height="2" fill="rgb(120,120,120)"/><rect x="95" y="644" width="687" height="2" fill="rgb(120,120,120)"/><rect x="820" y="644" width="686" height="2" fill="rgb(120,120,120)"/><rect x="1543" y="644" width="206" height="2" fill="rgb(120,120,120)"/><rect x="0" y="657" width="1749" height="1" fill="rgb(94,94,94)"/><rect x="0" y="723" width="1749" height="3" fill="rgb(147,147,147)"/><rect x="0" y="791.3" width="1749" height="2.7" fill="rgb(147,147,147)"/><rect x="395" y="761" width="13" height="1.5" fill="rgb(148,148,148)"/><rect x="758.4" y="0" width="1.3" height="861" fill="rgb(184,184,184)"/><rect x="786.5" y="90" width="1" height="771" fill="rgb(143,143,143)"/><rect x="1128.4" y="80" width="1.2" height="781" fill="rgb(178,178,178)"/><rect x="1081.5" y="535" width="1" height="326" fill="rgb(143,143,143)"/><rect x="897.5" y="735" width="1" height="126" fill="rgb(128,128,128)"/><rect x="1384.5" y="730" width="1" height="131" fill="rgb(133,133,133)"/><rect x="1586.5" y="490" width="1" height="371" fill="rgb(143,143,143)"/><rect x="1596.5" y="0" width="1" height="861" fill="rgb(184,184,184)"/><rect x="1605.0" y="0" width="1" height="861" fill="rgb(148,148,148)"/><rect x="1727.8" y="0" width="1.5" height="861" fill="rgb(199,199,199)"/><rect x="395.0" y="761" width="1" height="11" fill="rgb(143,143,143)"/><line x1="62" y1="644" x2="77.3" y2="593.6" stroke="rgb(153,153,153)" stroke-width="1.3" stroke-dasharray="3 1"/><line x1="77.3" y1="593.6" x2="96" y2="532" stroke="rgb(189,189,189)" stroke-width="1.5" stroke-dasharray="4 1.5"/><line x1="786" y1="645" x2="800.9" y2="594.6" stroke="rgb(153,153,153)" stroke-width="1.3" stroke-dasharray="3 1"/><line x1="800.9" y1="594.6" x2="819" y2="533" stroke="rgb(189,189,189)" stroke-width="1.5" stroke-dasharray="4 1.5"/><line x1="1509" y1="644" x2="1524.3" y2="594.0" stroke="rgb(153,153,153)" stroke-width="1.3" stroke-dasharray="3 1"/><line x1="1524.3" y1="594.0" x2="1543" y2="533" stroke="rgb(189,189,189)" stroke-width="1.5" stroke-dasharray="4 1.5"/></g></svg>
<div class="a" style="left:52px;top:70px;width:2px;height:861px;background:#fff"></div>
<div class="a" style="left:55px;top:70px;width:5px;height:861px;background:#fff"></div>
<div class="a" style="left:599px;top:70px;width:190px;height:861px;background:#fff"></div>
<div class="a" style="left:874px;top:70px;width:25px;height:861px;background:#fff"></div>
<div class="a" style="left:1493px;top:70px;width:18px;height:861px;background:#fff"></div>
<div class="a" style="left:54px;top:70px;width:1px;height:861px;background:rgba(255,255,255,0.35)"></div>
</body></html>
